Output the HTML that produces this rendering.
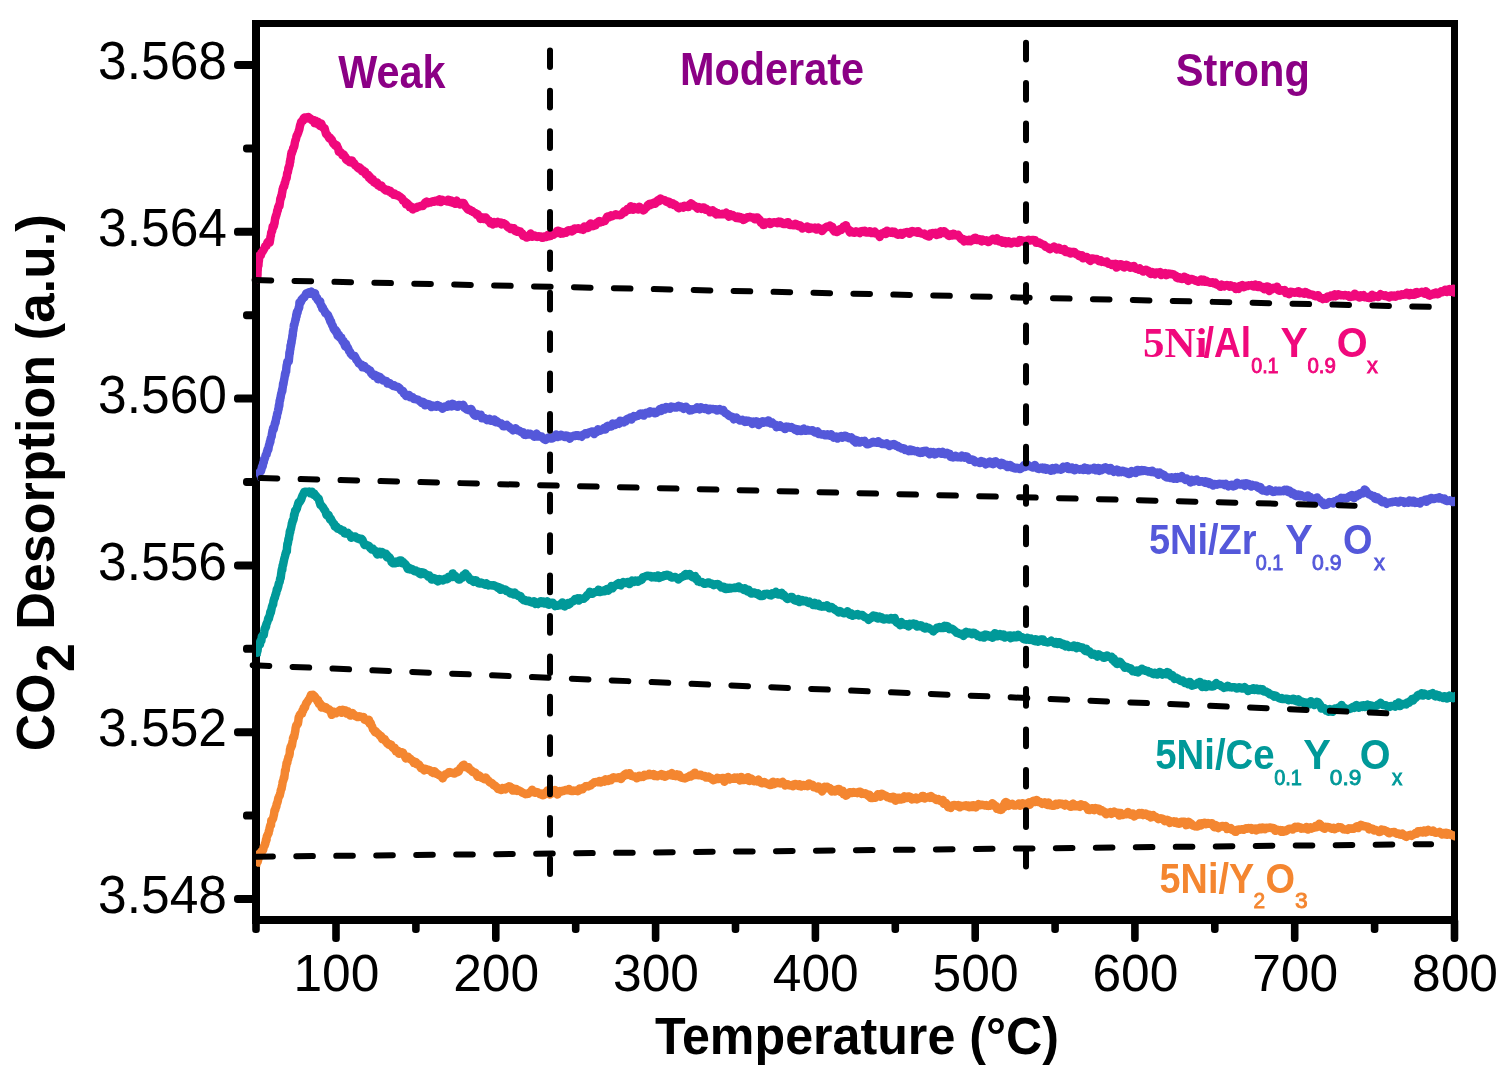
<!DOCTYPE html>
<html><head><meta charset="utf-8"><title>CO2-TPD</title>
<style>html,body{margin:0;padding:0;background:#fff}svg{display:block}</style></head>
<body>
<svg width="1510" height="1084" viewBox="0 0 1510 1084">
<rect width="1510" height="1084" fill="#fff"/>
<rect x="252" y="20" width="8" height="904" fill="#000"/>
<rect x="1451" y="20" width="7" height="904" fill="#000"/>
<rect x="252" y="20" width="1206" height="7" fill="#000"/>
<rect x="252" y="916" width="1206" height="8" fill="#000"/>
<rect x="252.2" y="918" width="7.6" height="15.0" rx="3.3" fill="#000"/>
<rect x="332.2" y="918" width="7.6" height="24.0" rx="3.3" fill="#000"/>
<rect x="412.1" y="918" width="7.6" height="15.0" rx="3.3" fill="#000"/>
<rect x="492.0" y="918" width="7.6" height="24.0" rx="3.3" fill="#000"/>
<rect x="571.9" y="918" width="7.6" height="15.0" rx="3.3" fill="#000"/>
<rect x="651.8" y="918" width="7.6" height="24.0" rx="3.3" fill="#000"/>
<rect x="731.7" y="918" width="7.6" height="15.0" rx="3.3" fill="#000"/>
<rect x="811.6" y="918" width="7.6" height="24.0" rx="3.3" fill="#000"/>
<rect x="891.5" y="918" width="7.6" height="15.0" rx="3.3" fill="#000"/>
<rect x="971.4" y="918" width="7.6" height="24.0" rx="3.3" fill="#000"/>
<rect x="1051.3" y="918" width="7.6" height="15.0" rx="3.3" fill="#000"/>
<rect x="1131.1" y="918" width="7.6" height="24.0" rx="3.3" fill="#000"/>
<rect x="1211.0" y="918" width="7.6" height="15.0" rx="3.3" fill="#000"/>
<rect x="1290.9" y="918" width="7.6" height="24.0" rx="3.3" fill="#000"/>
<rect x="1370.8" y="918" width="7.6" height="15.0" rx="3.3" fill="#000"/>
<rect x="1450.7" y="918" width="7.6" height="24.0" rx="3.3" fill="#000"/>
<rect x="234.0" y="61.0" width="24" height="8" rx="3.4" fill="#000"/>
<rect x="243.0" y="144.4" width="15" height="8" rx="3.4" fill="#000"/>
<rect x="234.0" y="227.8" width="24" height="8" rx="3.4" fill="#000"/>
<rect x="243.0" y="311.2" width="15" height="8" rx="3.4" fill="#000"/>
<rect x="234.0" y="394.6" width="24" height="8" rx="3.4" fill="#000"/>
<rect x="243.0" y="478.0" width="15" height="8" rx="3.4" fill="#000"/>
<rect x="234.0" y="561.4" width="24" height="8" rx="3.4" fill="#000"/>
<rect x="243.0" y="644.8" width="15" height="8" rx="3.4" fill="#000"/>
<rect x="234.0" y="728.2" width="24" height="8" rx="3.4" fill="#000"/>
<rect x="243.0" y="811.6" width="15" height="8" rx="3.4" fill="#000"/>
<rect x="234.0" y="895.0" width="24" height="8" rx="3.4" fill="#000"/>
<clipPath id="plotclip"><rect x="256" y="20" width="1199" height="900"/></clipPath>
<g clip-path="url(#plotclip)">
<path d="M256.0 866.0 L256.4 864.2 L256.8 862.5 L257.2 862.5 L257.7 861.6 L258.1 860.2 L258.5 858.2 L259.1 857.2 L259.7 853.4 L260.3 853.0 L260.9 852.7 L261.4 851.5 L262.0 851.4 L262.6 850.8 L263.2 849.7 L263.8 846.7 L264.4 845.9 L264.7 845.5 L265.1 843.1 L265.4 843.4 L265.8 841.1 L266.1 839.2 L266.5 840.2 L266.8 836.7 L267.2 835.5 L267.5 835.5 L267.9 834.2 L268.2 833.9 L268.6 833.2 L268.9 830.7 L269.3 830.3 L269.6 828.2 L269.9 826.9 L270.3 825.5 L270.6 825.0 L271.0 825.1 L271.3 820.4 L271.6 821.0 L272.0 820.5 L272.3 819.7 L272.7 818.8 L273.0 818.7 L273.3 817.4 L273.7 815.6 L274.0 814.5 L274.4 811.2 L274.7 809.8 L275.0 810.7 L275.4 809.3 L275.7 807.4 L276.1 807.1 L276.4 806.4 L276.7 803.6 L277.1 803.5 L277.4 802.4 L277.8 801.1 L278.1 799.2 L278.4 797.9 L278.8 797.1 L279.1 796.3 L279.5 795.8 L279.8 795.3 L280.1 793.6 L280.4 792.6 L280.7 790.9 L281.0 789.7 L281.3 789.2 L281.6 788.8 L281.9 786.3 L282.1 785.8 L282.4 783.9 L282.7 781.5 L283.0 781.4 L283.3 780.4 L283.6 779.2 L283.9 777.3 L284.2 778.1 L284.5 775.7 L284.7 774.1 L285.0 770.9 L285.2 770.1 L285.5 770.5 L285.7 770.2 L286.0 766.5 L286.3 766.0 L286.5 763.2 L286.8 763.4 L287.0 762.3 L287.3 762.9 L287.5 760.6 L287.8 759.7 L288.1 759.3 L288.4 757.2 L288.7 756.7 L289.1 756.0 L289.4 755.0 L289.7 753.5 L290.0 749.4 L290.3 749.1 L290.6 746.8 L291.0 748.1 L291.3 746.4 L291.6 744.7 L291.9 745.8 L292.2 743.7 L292.5 741.7 L292.8 740.3 L293.1 737.8 L293.4 737.7 L293.7 736.3 L294.1 737.4 L294.4 735.4 L294.7 734.1 L295.0 732.1 L295.3 731.2 L295.6 728.2 L295.9 726.9 L296.3 725.3 L296.7 725.4 L297.1 724.8 L297.5 723.5 L297.9 723.6 L298.3 721.3 L298.7 717.5 L299.1 717.2 L299.7 715.0 L300.2 714.4 L300.8 713.5 L301.4 713.7 L302.0 713.6 L302.5 710.5 L303.1 710.8 L303.8 707.5 L304.4 708.2 L305.1 707.1 L305.7 704.6 L306.4 702.9 L307.0 702.6 L307.8 701.0 L308.6 699.8 L309.4 699.0 L310.2 697.1 L311.0 694.9 L311.8 696.2 L313.1 695.0 L314.5 696.2 L315.8 698.0 L316.6 699.2 L317.4 701.2 L318.1 700.1 L318.9 703.9 L319.7 703.1 L320.5 704.0 L321.6 707.6 L322.7 706.0 L323.9 707.0 L325.0 708.3 L326.1 707.3 L327.0 709.0 L328.0 709.0 L328.9 709.1 L329.8 711.1 L330.8 710.7 L331.7 714.8 L333.1 711.4 L334.4 713.2 L335.8 713.3 L337.2 712.2 L338.6 711.1 L340.0 710.1 L341.4 712.7 L342.8 709.8 L344.1 711.1 L345.4 710.4 L346.6 713.6 L347.9 711.2 L349.2 714.4 L350.2 715.6 L351.3 714.7 L352.4 713.1 L353.4 714.8 L354.4 714.7 L355.5 716.2 L356.7 716.7 L357.9 717.1 L359.1 716.2 L360.3 716.6 L361.5 717.0 L362.7 717.3 L363.6 717.0 L364.5 719.8 L365.4 719.9 L366.4 720.3 L367.3 720.6 L368.2 721.6 L369.0 719.8 L369.8 723.8 L370.6 722.8 L371.4 725.2 L372.2 726.7 L373.0 729.2 L373.8 730.0 L374.9 732.0 L375.9 731.5 L377.0 733.1 L378.1 733.7 L379.1 734.6 L380.2 736.3 L381.1 735.9 L382.0 738.9 L382.9 738.2 L383.9 739.1 L384.8 739.4 L385.7 741.4 L386.5 741.9 L387.3 743.5 L388.1 743.9 L388.9 744.9 L389.7 744.1 L390.5 744.5 L391.3 744.9 L392.4 747.3 L393.5 748.2 L394.7 747.8 L395.8 751.2 L396.9 751.3 L397.9 750.8 L398.9 753.7 L399.9 752.3 L400.9 752.2 L401.9 752.3 L403.0 752.7 L404.0 754.9 L405.0 756.5 L406.0 758.5 L407.0 756.9 L408.0 756.7 L409.0 758.4 L410.0 758.4 L410.9 759.6 L411.9 760.3 L412.9 760.8 L413.9 763.0 L414.9 762.9 L415.9 762.0 L416.9 764.3 L417.9 764.5 L418.9 764.5 L419.9 766.2 L420.9 768.1 L421.9 767.8 L422.9 769.1 L424.2 770.2 L425.5 768.8 L426.9 769.5 L428.2 769.7 L429.5 770.2 L430.8 770.8 L432.0 772.3 L433.2 772.9 L434.4 771.2 L435.6 772.3 L436.8 774.0 L437.8 774.1 L438.8 775.1 L439.7 775.3 L440.7 775.6 L441.7 777.0 L442.7 778.4 L443.7 775.6 L444.7 775.4 L445.7 774.1 L446.7 773.9 L447.7 773.4 L448.7 772.3 L449.9 772.1 L451.1 772.6 L452.3 773.0 L453.5 773.3 L454.7 773.5 L455.7 772.7 L456.7 771.4 L457.7 772.1 L458.6 771.6 L459.6 769.6 L460.6 767.7 L461.6 767.4 L462.6 765.5 L463.8 764.7 L465.0 766.9 L466.2 767.4 L467.4 767.1 L468.6 767.3 L469.6 769.3 L470.6 770.0 L471.6 770.4 L472.6 772.0 L473.5 772.1 L474.5 772.2 L475.5 772.7 L476.5 774.5 L477.6 776.7 L478.8 775.2 L479.9 776.1 L481.1 777.5 L482.2 778.1 L483.4 778.4 L484.5 779.2 L485.5 777.5 L486.5 778.4 L487.5 780.0 L488.4 780.7 L489.4 782.0 L490.4 782.8 L491.4 782.8 L492.4 783.6 L493.5 785.2 L494.6 785.3 L495.7 786.4 L496.9 787.2 L498.0 788.9 L499.1 788.9 L500.2 789.6 L501.3 790.0 L502.6 788.0 L503.9 789.2 L505.2 789.4 L506.4 787.6 L507.7 788.0 L509.0 786.4 L510.3 786.7 L511.5 788.6 L512.7 790.6 L513.8 788.6 L515.0 790.4 L516.2 789.0 L517.3 790.8 L518.5 790.2 L519.6 791.0 L520.8 791.3 L521.9 792.5 L523.1 792.9 L524.2 793.4 L525.5 794.2 L526.8 793.9 L528.2 793.8 L529.5 792.4 L530.8 792.2 L532.1 789.8 L533.4 792.1 L534.8 792.8 L536.1 792.1 L537.4 792.2 L538.8 793.3 L540.1 794.2 L541.3 793.7 L542.5 795.3 L543.8 795.1 L545.0 792.8 L546.2 793.6 L547.5 790.4 L548.7 793.0 L549.9 794.5 L551.1 792.7 L552.4 793.1 L553.6 792.5 L554.9 790.1 L556.1 792.5 L557.4 794.5 L558.6 792.2 L559.9 791.1 L561.2 791.4 L562.5 790.7 L563.8 790.9 L565.2 790.1 L566.5 790.1 L567.8 790.2 L569.0 789.0 L570.3 790.8 L571.5 790.9 L572.8 791.0 L574.0 790.6 L575.3 790.8 L576.5 790.3 L577.8 791.2 L578.8 790.6 L579.8 788.4 L580.8 789.5 L581.8 788.8 L582.7 789.2 L583.7 787.5 L584.7 787.2 L585.7 786.3 L586.9 786.1 L588.2 786.4 L589.4 785.8 L590.7 785.4 L591.9 784.1 L593.1 783.4 L594.4 782.3 L595.6 782.2 L596.9 781.9 L598.1 782.3 L599.4 781.1 L600.6 782.5 L601.9 781.1 L603.1 781.3 L604.4 781.6 L605.6 779.2 L606.9 780.5 L608.2 780.9 L609.6 779.0 L610.9 780.3 L612.2 777.9 L613.5 777.2 L614.9 778.1 L616.2 778.1 L617.5 777.7 L618.7 777.2 L619.9 777.9 L621.1 779.0 L622.3 776.3 L623.6 776.2 L624.8 774.3 L626.0 773.6 L627.2 774.7 L628.4 773.5 L629.6 773.2 L630.8 775.5 L632.0 776.0 L633.2 776.3 L634.5 776.6 L635.7 776.5 L636.9 778.2 L638.1 777.0 L639.3 775.8 L640.5 777.0 L641.8 776.7 L643.0 776.9 L644.3 775.0 L645.5 775.7 L646.8 774.7 L648.0 775.2 L649.3 773.8 L650.6 775.1 L651.9 775.0 L653.3 774.2 L654.6 776.1 L655.9 775.1 L657.2 776.2 L658.6 775.4 L659.9 775.1 L661.2 774.2 L662.5 776.0 L663.8 775.0 L665.2 776.7 L666.5 775.9 L667.8 775.1 L669.1 774.3 L670.5 775.3 L671.8 773.1 L673.1 775.8 L674.3 775.6 L675.5 776.1 L676.7 774.3 L677.9 776.2 L679.0 774.7 L680.2 777.2 L681.4 777.7 L682.6 778.0 L683.8 778.1 L685.0 778.4 L686.2 777.9 L687.4 777.2 L688.7 776.9 L689.9 775.6 L691.1 776.5 L692.3 774.7 L693.6 775.2 L694.8 772.7 L696.0 774.9 L697.3 774.8 L698.5 775.2 L699.8 774.7 L701.1 775.0 L702.4 776.0 L703.6 776.0 L704.9 776.1 L706.1 777.6 L707.4 777.4 L708.6 776.6 L709.8 778.0 L711.1 778.1 L712.3 779.5 L713.6 780.2 L714.8 779.7 L716.0 779.1 L717.2 777.9 L718.4 778.9 L719.6 778.3 L720.8 778.6 L722.0 778.0 L723.2 778.0 L724.4 781.7 L725.6 777.9 L726.8 778.0 L728.1 777.0 L729.4 779.4 L730.8 778.5 L732.1 778.8 L733.4 778.7 L734.7 777.6 L736.1 778.6 L737.4 777.6 L738.7 778.4 L740.0 780.5 L741.3 776.9 L742.7 780.0 L744.0 779.9 L745.3 778.2 L746.6 778.5 L748.0 777.2 L749.3 781.0 L750.6 778.3 L751.7 778.8 L752.8 780.5 L753.9 781.2 L755.0 780.6 L756.1 780.8 L757.2 781.3 L758.3 779.6 L759.4 780.8 L760.5 782.4 L761.8 783.3 L763.2 782.5 L764.5 782.0 L765.8 783.5 L767.2 783.4 L768.5 784.4 L769.6 784.9 L770.8 785.0 L771.9 782.9 L773.0 781.7 L774.1 784.2 L775.3 782.7 L776.4 783.1 L777.6 782.2 L778.9 782.9 L780.1 783.5 L781.4 782.6 L782.6 781.9 L783.9 783.2 L785.1 785.3 L786.4 784.7 L787.7 784.2 L789.0 785.3 L790.4 785.4 L791.7 785.1 L793.0 786.2 L794.3 784.1 L795.7 783.9 L797.0 784.8 L798.3 786.0 L799.6 784.3 L800.9 786.5 L802.3 785.1 L803.6 784.9 L804.9 785.9 L806.2 785.7 L807.6 786.1 L808.9 783.4 L810.2 784.4 L811.4 784.6 L812.6 784.9 L813.8 787.3 L815.0 787.0 L816.2 787.5 L817.3 788.4 L818.5 786.4 L819.7 787.9 L820.9 788.9 L822.1 791.4 L823.4 788.3 L824.6 786.8 L825.9 788.2 L827.1 786.8 L828.4 788.5 L829.6 788.0 L830.9 790.2 L832.1 791.5 L833.4 790.3 L834.7 791.5 L836.0 789.7 L837.1 789.8 L838.2 788.9 L839.3 788.9 L840.4 791.8 L841.5 792.1 L842.6 790.7 L843.7 794.3 L844.8 794.1 L845.9 795.6 L847.2 794.8 L848.4 793.6 L849.7 792.3 L851.0 792.3 L852.2 793.0 L853.5 792.0 L854.7 792.8 L856.0 792.4 L857.3 793.1 L858.5 791.9 L859.8 791.7 L860.9 792.0 L862.0 793.9 L863.0 793.5 L864.1 794.0 L865.2 793.3 L866.3 794.1 L867.4 794.8 L868.5 796.2 L869.5 794.7 L870.6 797.9 L871.7 797.2 L873.0 797.9 L874.2 797.3 L875.5 797.6 L876.7 796.1 L878.0 794.3 L879.2 796.2 L880.5 796.6 L881.7 793.7 L882.9 794.3 L884.0 795.2 L885.2 795.4 L886.3 796.0 L887.5 797.3 L888.7 797.1 L889.8 798.1 L891.0 798.4 L892.1 796.9 L893.3 796.8 L894.4 798.8 L895.6 800.7 L896.9 797.7 L898.1 799.6 L899.4 797.8 L900.7 799.5 L901.9 798.5 L903.2 799.1 L904.4 796.3 L905.7 798.0 L907.0 797.9 L908.2 796.5 L909.5 796.6 L910.8 797.1 L912.0 799.5 L913.3 798.8 L914.6 798.9 L915.8 797.6 L917.1 799.3 L918.3 798.7 L919.6 798.1 L920.9 797.8 L922.1 796.1 L923.4 796.1 L924.7 798.4 L925.9 797.8 L927.2 797.6 L928.5 796.8 L929.7 797.7 L931.0 796.2 L932.2 797.1 L933.5 798.2 L934.8 798.2 L936.0 799.8 L937.3 800.1 L938.4 799.2 L939.5 800.2 L940.5 801.1 L941.6 800.6 L942.7 799.9 L943.8 803.8 L944.9 802.9 L946.0 802.9 L947.0 804.9 L948.1 807.1 L949.2 806.8 L950.5 808.0 L951.8 805.8 L953.2 805.1 L954.5 804.9 L955.8 805.4 L957.1 806.1 L958.5 805.1 L959.8 807.3 L961.1 805.7 L962.3 806.1 L963.5 806.0 L964.7 805.6 L965.9 805.3 L967.1 806.4 L968.3 805.6 L969.5 807.3 L970.7 805.8 L971.9 807.1 L973.1 805.2 L974.4 805.4 L975.7 807.4 L977.1 805.8 L978.4 804.3 L979.7 805.2 L981.0 804.7 L982.4 804.7 L983.7 805.1 L985.0 805.6 L986.2 805.0 L987.5 805.8 L988.7 805.9 L990.0 805.7 L991.2 804.5 L992.4 803.3 L993.7 804.3 L994.9 806.2 L995.9 806.1 L996.9 808.8 L997.9 807.6 L998.9 809.5 L999.9 808.6 L1000.9 809.9 L1001.7 809.7 L1002.5 807.3 L1003.2 805.9 L1004.0 807.3 L1004.8 802.9 L1006.0 802.0 L1007.3 802.8 L1008.5 805.9 L1009.8 804.0 L1011.0 804.3 L1012.3 803.9 L1013.5 805.4 L1014.8 805.5 L1016.1 805.4 L1017.4 804.9 L1018.8 803.6 L1020.1 805.7 L1021.4 805.1 L1022.7 803.3 L1024.1 804.9 L1025.4 804.8 L1026.7 803.6 L1027.8 805.2 L1028.9 802.3 L1030.0 804.7 L1031.2 801.9 L1032.3 801.9 L1033.4 800.7 L1034.5 802.1 L1035.6 800.9 L1036.7 799.9 L1037.8 802.1 L1039.0 802.0 L1040.1 802.1 L1041.2 803.0 L1042.3 803.8 L1043.5 802.8 L1044.6 802.3 L1045.9 804.2 L1047.1 804.8 L1048.4 802.5 L1049.7 805.1 L1050.9 804.7 L1052.2 805.8 L1053.4 805.7 L1054.7 805.5 L1056.0 803.8 L1057.2 804.9 L1058.5 803.7 L1059.7 803.4 L1060.9 804.0 L1062.1 803.7 L1063.3 804.5 L1064.5 805.4 L1065.6 804.0 L1066.8 804.9 L1068.0 805.1 L1069.2 805.8 L1070.4 806.8 L1071.7 806.5 L1073.0 803.6 L1074.4 806.3 L1075.7 806.2 L1077.0 805.3 L1078.3 806.2 L1079.7 806.8 L1081.0 804.2 L1082.3 805.7 L1083.5 805.9 L1084.7 805.4 L1085.9 806.3 L1087.1 807.5 L1088.2 809.9 L1089.4 810.1 L1090.6 809.2 L1091.8 808.3 L1093.0 808.3 L1094.2 810.2 L1095.4 808.1 L1096.6 809.4 L1097.8 808.5 L1099.0 808.9 L1100.2 811.2 L1101.4 809.9 L1102.6 811.6 L1103.8 811.6 L1105.0 813.0 L1106.2 814.2 L1107.5 812.7 L1108.8 812.9 L1110.2 812.1 L1111.5 813.8 L1112.8 813.1 L1114.1 811.6 L1115.5 812.7 L1116.8 812.8 L1118.1 812.7 L1119.3 815.5 L1120.6 812.9 L1121.8 814.8 L1123.0 814.9 L1124.2 814.2 L1125.5 814.3 L1126.7 814.2 L1127.9 812.0 L1129.1 813.3 L1130.4 814.8 L1131.6 814.9 L1132.9 813.6 L1134.2 816.4 L1135.5 814.6 L1136.8 814.9 L1138.0 814.5 L1139.3 813.1 L1140.6 814.6 L1141.9 812.9 L1143.2 815.0 L1144.5 814.4 L1145.7 813.5 L1147.0 814.4 L1148.3 816.1 L1149.5 814.7 L1150.8 817.5 L1152.0 816.4 L1153.3 815.3 L1154.6 816.5 L1155.8 816.8 L1157.1 817.8 L1158.4 819.2 L1159.6 818.7 L1160.9 818.3 L1162.2 818.6 L1163.4 819.4 L1164.7 821.0 L1165.9 820.1 L1167.2 819.8 L1168.5 820.4 L1169.7 822.9 L1171.0 822.0 L1172.3 821.8 L1173.5 821.3 L1174.8 822.7 L1176.1 821.8 L1177.3 823.4 L1178.6 823.7 L1179.8 823.5 L1181.1 821.7 L1182.4 821.7 L1183.6 822.0 L1184.9 821.8 L1186.2 825.1 L1187.4 824.9 L1188.7 821.8 L1190.0 822.8 L1191.2 823.7 L1192.5 825.3 L1193.7 825.9 L1195.0 826.4 L1196.3 825.8 L1197.5 826.5 L1198.8 825.6 L1200.0 823.4 L1201.1 825.4 L1202.3 823.2 L1203.4 823.9 L1204.6 822.7 L1205.8 824.2 L1206.9 823.9 L1208.1 823.0 L1209.4 823.7 L1210.6 823.5 L1211.9 823.3 L1213.2 825.8 L1214.4 827.2 L1215.7 825.1 L1216.9 827.0 L1218.2 828.2 L1219.5 826.4 L1220.7 826.6 L1222.0 825.9 L1223.3 826.2 L1224.5 827.0 L1225.8 825.9 L1227.1 829.0 L1228.3 828.6 L1229.6 828.7 L1230.8 828.1 L1232.1 829.8 L1233.4 830.1 L1234.6 831.5 L1235.9 831.8 L1237.2 829.9 L1238.4 829.5 L1239.7 829.7 L1241.0 829.5 L1242.2 829.3 L1243.5 829.8 L1244.7 829.1 L1246.0 828.2 L1247.3 828.7 L1248.5 828.0 L1249.8 828.5 L1251.1 828.0 L1252.3 829.7 L1253.6 828.9 L1254.9 828.6 L1256.1 830.4 L1257.4 828.6 L1258.6 829.4 L1259.9 828.1 L1261.2 829.3 L1262.4 827.5 L1263.7 828.0 L1265.0 829.1 L1266.4 827.8 L1267.7 828.1 L1269.0 827.7 L1270.3 827.5 L1271.7 828.2 L1273.0 828.0 L1274.2 828.5 L1275.3 830.8 L1276.5 829.7 L1277.7 829.8 L1278.8 830.3 L1280.0 830.1 L1281.1 831.8 L1282.3 830.3 L1283.5 831.8 L1284.6 830.5 L1285.8 831.1 L1286.9 830.4 L1288.1 829.2 L1289.2 828.8 L1290.4 828.8 L1291.6 828.9 L1292.7 829.5 L1293.9 828.1 L1295.0 826.9 L1296.2 827.9 L1297.5 826.7 L1298.8 827.0 L1300.1 827.4 L1301.4 828.7 L1302.6 828.0 L1303.9 828.6 L1305.2 828.5 L1306.5 826.9 L1307.8 829.6 L1309.1 828.1 L1310.4 827.4 L1311.7 828.5 L1313.0 827.4 L1314.2 827.7 L1315.5 826.0 L1316.8 827.2 L1318.1 825.6 L1319.4 823.8 L1320.7 824.9 L1322.0 827.4 L1323.2 827.9 L1324.5 828.8 L1325.8 826.9 L1327.1 827.2 L1328.3 827.1 L1329.6 827.4 L1330.9 828.3 L1332.2 828.8 L1333.5 827.9 L1334.8 829.1 L1336.1 828.3 L1337.3 828.1 L1338.6 827.1 L1339.9 827.3 L1341.2 827.5 L1342.5 828.5 L1343.8 829.4 L1345.1 829.6 L1346.4 829.2 L1347.7 829.8 L1348.9 828.2 L1350.2 828.6 L1351.5 828.7 L1352.8 828.2 L1354.1 828.6 L1355.4 827.3 L1356.8 826.4 L1358.1 828.1 L1359.4 826.2 L1360.7 824.8 L1362.1 825.8 L1363.4 826.2 L1364.6 826.0 L1365.7 826.6 L1366.9 826.9 L1368.1 826.7 L1369.2 829.4 L1370.4 828.8 L1371.5 828.6 L1372.7 828.7 L1374.0 830.4 L1375.3 829.7 L1376.6 830.4 L1377.9 830.9 L1379.1 832.0 L1380.4 831.8 L1381.7 829.4 L1383.0 830.3 L1384.3 830.1 L1385.6 831.0 L1386.9 831.2 L1388.1 832.7 L1389.4 833.2 L1390.7 832.5 L1392.0 832.3 L1393.2 832.1 L1394.5 832.0 L1395.8 833.2 L1397.1 833.8 L1398.5 833.5 L1399.8 834.6 L1401.1 834.7 L1402.4 833.7 L1403.8 834.9 L1405.1 836.2 L1406.4 836.8 L1407.7 835.4 L1409.0 835.5 L1410.3 834.8 L1411.5 835.8 L1412.8 834.9 L1414.1 834.3 L1415.4 833.1 L1416.7 833.6 L1418.0 831.3 L1419.2 831.5 L1420.5 831.1 L1421.8 832.4 L1423.0 832.6 L1424.3 830.4 L1425.5 832.4 L1426.8 832.0 L1428.1 829.8 L1429.3 831.3 L1430.6 831.2 L1431.9 831.8 L1433.2 830.6 L1434.5 832.2 L1435.8 832.7 L1437.0 832.5 L1438.3 832.6 L1439.6 831.8 L1440.9 833.5 L1442.2 834.4 L1443.5 833.2 L1444.8 834.2 L1446.1 832.8 L1447.4 834.8 L1448.7 833.4 L1450.0 834.1 L1451.2 835.1 L1452.3 835.3 L1453.5 835.5 L1454.7 836.1 L1455.8 836.3 L1457.0 837.5" fill="none" stroke="#F48630" stroke-width="8.5" stroke-linejoin="round" stroke-linecap="butt"/>
<path d="M256.5 656.0 L256.8 652.5 L257.0 652.7 L257.2 651.2 L257.5 651.0 L257.8 648.3 L258.0 646.0 L258.2 646.2 L258.5 644.7 L259.0 643.6 L259.4 644.1 L259.9 644.5 L260.4 641.3 L260.9 640.2 L261.4 640.7 L261.8 636.6 L262.3 636.2 L262.8 635.3 L263.2 634.6 L263.7 635.0 L264.2 632.1 L264.6 629.2 L264.9 628.1 L265.3 628.3 L265.6 626.3 L266.0 627.0 L266.4 623.9 L266.7 623.6 L267.1 622.5 L267.4 621.7 L267.8 620.3 L268.2 618.7 L268.5 618.0 L268.9 618.6 L269.2 616.6 L269.6 615.8 L270.0 614.2 L270.3 612.0 L270.7 612.9 L271.0 611.4 L271.4 609.5 L271.7 608.0 L272.1 606.2 L272.4 605.9 L272.8 604.3 L273.1 604.5 L273.5 601.3 L273.8 600.3 L274.2 598.6 L274.5 598.3 L274.9 597.8 L275.2 595.6 L275.6 594.9 L275.9 593.2 L276.2 593.5 L276.5 591.4 L276.9 589.1 L277.2 588.6 L277.5 589.3 L277.8 587.6 L278.2 586.7 L278.5 585.1 L278.8 583.6 L279.1 582.6 L279.5 582.5 L279.8 581.0 L280.1 579.1 L280.3 578.1 L280.6 578.2 L280.8 577.1 L281.1 574.2 L281.3 573.1 L281.6 570.7 L281.8 569.7 L282.1 568.4 L282.3 569.6 L282.6 565.7 L282.8 565.7 L283.1 564.8 L283.3 563.5 L283.6 562.2 L284.0 560.1 L284.3 558.8 L284.6 557.7 L284.9 556.7 L285.3 555.2 L285.6 553.6 L285.8 553.6 L286.1 551.9 L286.3 551.9 L286.5 551.9 L286.8 551.4 L287.0 547.9 L287.2 545.9 L287.4 543.8 L287.7 544.3 L287.9 543.0 L288.1 542.2 L288.4 539.6 L288.6 538.5 L288.9 539.1 L289.1 537.0 L289.3 535.5 L289.6 534.2 L289.8 531.5 L290.1 532.6 L290.3 531.1 L290.6 529.3 L290.9 528.9 L291.2 527.2 L291.5 526.0 L291.9 523.1 L292.2 523.6 L292.5 521.1 L292.8 520.4 L293.1 520.6 L293.5 519.3 L293.8 517.9 L294.1 514.4 L294.5 515.3 L294.9 512.3 L295.2 510.5 L295.5 511.6 L295.9 510.2 L296.4 509.2 L296.8 509.1 L297.3 506.4 L297.7 505.5 L298.2 503.7 L298.6 502.3 L299.1 502.0 L299.8 502.0 L300.4 500.4 L301.1 499.9 L301.8 497.5 L302.4 495.8 L303.1 494.7 L304.3 491.9 L305.5 491.7 L306.6 491.9 L307.8 491.9 L309.2 491.5 L310.6 493.4 L312.0 491.8 L313.4 494.7 L314.2 493.5 L315.0 495.5 L315.8 495.5 L316.6 497.0 L317.4 497.7 L317.9 498.2 L318.4 498.2 L318.9 499.4 L319.5 501.9 L320.0 503.2 L320.5 505.2 L321.2 505.3 L321.8 506.0 L322.5 506.8 L323.2 507.8 L323.8 508.9 L324.5 510.0 L325.2 510.7 L325.8 512.4 L326.5 515.0 L327.2 514.3 L327.8 516.0 L328.5 514.8 L329.3 517.3 L330.1 519.3 L330.9 518.9 L331.7 520.7 L332.5 522.0 L333.3 523.4 L334.1 523.9 L334.8 526.4 L335.6 526.9 L336.4 526.4 L337.6 528.7 L338.8 528.8 L340.0 528.9 L341.2 530.7 L342.3 530.8 L343.4 530.5 L344.6 533.4 L345.7 533.6 L346.8 533.6 L347.9 533.0 L349.0 534.6 L350.1 534.9 L351.2 537.7 L352.3 537.3 L353.7 536.6 L355.1 536.4 L356.5 538.0 L357.9 538.7 L358.8 538.4 L359.8 539.4 L360.7 539.5 L361.6 538.9 L362.6 540.2 L363.5 542.6 L364.6 545.0 L365.7 544.5 L366.8 545.2 L367.9 545.4 L369.0 546.0 L370.0 547.7 L370.9 548.5 L371.9 549.6 L372.8 548.6 L373.8 550.0 L374.9 550.8 L376.0 552.1 L377.2 554.4 L378.3 554.0 L379.4 551.7 L380.8 554.2 L382.1 552.1 L383.5 554.0 L384.9 554.1 L385.9 553.7 L387.0 557.3 L388.1 556.1 L389.1 558.4 L389.9 558.0 L390.8 559.7 L391.6 562.0 L392.5 562.8 L393.3 563.3 L394.2 563.0 L395.0 563.3 L396.2 561.8 L397.4 562.7 L398.6 562.5 L399.8 560.5 L401.0 560.4 L402.0 563.3 L403.0 561.9 L404.0 563.1 L404.9 563.7 L405.9 564.9 L406.9 567.0 L407.9 569.0 L408.9 567.7 L410.0 569.3 L411.2 568.7 L412.3 569.3 L413.5 570.5 L414.6 571.2 L415.8 570.6 L416.9 571.7 L418.1 571.5 L419.4 573.5 L420.6 574.3 L421.9 572.2 L423.1 573.7 L424.3 573.1 L425.6 574.4 L426.8 574.6 L428.1 576.3 L429.3 575.5 L430.6 578.0 L431.8 579.6 L433.1 577.9 L434.3 578.4 L435.6 578.8 L436.8 580.5 L438.0 581.4 L439.3 579.0 L440.5 579.7 L441.8 579.4 L443.0 580.4 L444.2 579.7 L445.5 578.6 L446.7 579.3 L447.7 578.9 L448.7 576.7 L449.7 577.3 L450.7 577.0 L451.7 577.1 L452.7 573.4 L453.9 575.9 L455.1 575.7 L456.2 577.3 L457.4 578.0 L458.6 579.4 L459.8 579.5 L460.9 577.8 L462.1 577.8 L463.3 575.3 L464.4 575.4 L465.6 573.5 L466.8 576.0 L467.9 576.1 L469.1 578.4 L470.2 579.9 L471.4 579.5 L472.5 580.9 L473.8 581.9 L475.0 580.2 L476.2 580.4 L477.5 582.3 L478.8 583.4 L480.0 583.6 L481.2 582.5 L482.5 583.1 L483.7 583.8 L485.0 584.6 L486.2 583.3 L487.4 584.7 L488.7 585.4 L489.9 585.1 L491.2 585.3 L492.4 585.4 L493.5 585.2 L494.7 585.7 L495.8 586.4 L496.9 586.4 L498.0 587.9 L499.2 587.4 L500.3 589.8 L501.6 588.5 L502.8 589.6 L504.1 589.5 L505.3 589.4 L506.6 591.1 L507.8 591.2 L509.1 592.2 L510.3 593.3 L511.4 592.6 L512.6 593.4 L513.7 594.5 L514.8 592.6 L515.9 594.8 L517.1 594.5 L518.2 596.0 L519.3 595.7 L520.5 596.2 L521.6 598.5 L522.8 599.3 L523.9 600.3 L525.1 600.1 L526.2 601.0 L527.5 600.7 L528.8 600.7 L530.2 601.9 L531.5 602.4 L532.8 602.4 L534.1 601.2 L535.4 603.9 L536.8 602.9 L538.1 603.9 L539.4 602.3 L540.8 601.2 L542.1 603.0 L543.4 601.6 L544.7 603.6 L546.0 602.1 L547.3 601.3 L548.6 604.7 L549.9 604.2 L551.2 603.1 L552.6 602.7 L553.9 604.1 L555.2 606.0 L556.6 605.3 L557.9 605.7 L559.0 605.0 L560.2 604.2 L561.3 605.3 L562.4 602.5 L563.5 604.6 L564.7 606.4 L565.8 605.2 L566.8 604.1 L567.8 603.3 L568.8 604.5 L569.8 603.8 L570.8 602.5 L571.8 601.8 L572.8 601.5 L573.8 600.8 L575.0 599.0 L576.3 599.0 L577.5 598.3 L578.8 600.6 L580.0 598.2 L581.2 599.0 L582.5 598.4 L583.7 598.8 L584.9 597.6 L586.2 596.6 L587.4 594.7 L588.7 594.3 L589.9 591.8 L591.1 593.4 L592.4 593.8 L593.6 592.7 L594.9 592.1 L596.1 591.8 L597.4 591.8 L598.6 589.7 L599.9 592.1 L601.1 591.2 L602.4 591.4 L603.6 590.5 L604.7 591.1 L605.9 590.0 L607.0 589.0 L608.1 590.7 L609.2 589.7 L610.4 588.8 L611.5 586.0 L612.6 588.3 L613.8 586.1 L614.9 585.6 L616.1 585.0 L617.2 584.1 L618.4 583.3 L619.5 584.9 L620.7 585.4 L622.0 583.0 L623.2 582.1 L624.5 583.0 L625.7 582.8 L626.9 582.2 L628.2 582.0 L629.4 584.1 L630.6 582.0 L631.9 580.8 L633.1 581.9 L634.3 581.9 L635.6 580.7 L636.8 581.6 L638.1 581.7 L639.3 580.3 L640.5 580.3 L641.8 579.7 L643.0 577.1 L644.3 576.9 L645.5 576.4 L646.8 575.8 L648.0 575.8 L649.3 575.9 L650.5 575.9 L651.8 577.4 L653.0 577.2 L654.2 576.4 L655.5 577.5 L656.7 577.0 L658.0 575.6 L659.2 578.0 L660.5 576.3 L661.8 577.0 L663.1 576.4 L664.3 575.3 L665.6 575.7 L666.9 574.7 L668.2 575.3 L669.5 575.5 L670.7 576.9 L672.0 577.6 L673.3 577.4 L674.6 576.9 L675.8 577.3 L677.1 578.1 L678.3 579.5 L679.6 578.3 L680.8 577.5 L682.0 576.9 L683.3 576.4 L684.5 575.0 L685.8 573.9 L687.0 575.3 L688.4 574.2 L689.8 574.1 L691.2 576.1 L692.6 577.2 L694.0 576.5 L695.0 576.2 L696.0 579.2 L697.0 578.4 L698.0 581.3 L699.0 581.3 L700.2 582.1 L701.5 581.9 L702.7 582.5 L704.0 583.7 L705.2 583.8 L706.4 583.4 L707.7 582.6 L708.9 582.6 L710.1 583.7 L711.4 583.4 L712.6 584.3 L713.8 585.1 L715.1 584.3 L716.3 584.4 L717.6 583.9 L718.8 584.6 L720.0 585.9 L721.3 587.4 L722.5 586.8 L723.8 586.7 L725.0 588.8 L726.3 589.1 L727.5 587.9 L728.8 588.6 L730.0 587.7 L731.3 588.4 L732.5 587.9 L733.8 588.0 L735.0 587.5 L736.2 587.9 L737.5 587.4 L738.7 586.5 L739.9 588.3 L741.2 588.0 L742.4 588.8 L743.7 589.7 L744.9 588.2 L746.1 590.0 L747.4 591.5 L748.6 589.8 L749.8 592.0 L751.0 593.4 L752.2 593.5 L753.4 592.4 L754.5 592.7 L755.7 593.5 L756.9 594.0 L758.1 593.3 L759.3 595.5 L760.5 595.9 L761.8 596.0 L763.2 595.8 L764.5 594.0 L765.8 593.9 L767.2 593.7 L768.5 594.2 L769.7 595.1 L771.0 595.4 L772.2 593.5 L773.5 594.2 L774.7 593.1 L775.9 592.0 L777.2 593.3 L778.4 594.6 L779.5 593.5 L780.6 594.6 L781.7 592.8 L782.8 595.6 L784.0 594.9 L785.1 596.4 L786.2 597.8 L787.3 599.0 L788.4 598.6 L789.6 598.2 L790.9 597.1 L792.1 597.0 L793.3 598.9 L794.6 600.2 L795.8 600.8 L797.1 600.2 L798.3 599.1 L799.5 602.0 L800.8 601.2 L802.0 600.0 L803.2 601.2 L804.5 601.0 L805.7 600.7 L807.0 602.0 L808.2 602.8 L809.5 601.8 L810.7 603.3 L812.0 603.5 L813.2 605.1 L814.5 602.8 L815.7 605.2 L817.0 604.4 L818.2 603.7 L819.4 606.2 L820.7 606.1 L821.9 606.7 L823.2 606.1 L824.4 606.5 L825.6 606.3 L826.9 605.3 L828.1 606.3 L829.3 608.3 L830.5 608.0 L831.6 607.1 L832.8 608.1 L834.0 608.7 L835.2 609.9 L836.4 610.6 L837.5 611.1 L838.7 612.5 L839.9 611.1 L841.1 611.9 L842.4 612.5 L843.6 613.3 L844.9 613.0 L846.1 612.5 L847.4 611.4 L848.6 612.2 L849.9 614.8 L851.1 613.3 L852.4 615.7 L853.6 614.9 L854.8 615.1 L856.1 614.6 L857.3 614.0 L858.6 615.4 L859.8 615.0 L861.0 615.1 L862.3 615.0 L863.5 616.2 L864.8 617.2 L866.0 617.5 L867.2 618.3 L868.5 619.8 L869.7 618.9 L870.9 618.0 L872.1 616.7 L873.3 615.6 L874.5 617.2 L875.7 616.0 L876.9 618.0 L878.1 618.5 L879.3 616.6 L880.5 618.4 L881.7 617.3 L883.0 619.3 L884.3 619.5 L885.7 618.8 L887.0 618.4 L888.3 619.3 L889.6 619.5 L891.0 617.9 L892.3 619.4 L893.6 618.4 L894.7 618.1 L895.8 621.4 L896.9 622.6 L898.0 623.2 L899.1 623.2 L900.2 625.3 L901.3 622.1 L902.4 623.7 L903.5 624.3 L904.8 624.7 L906.0 624.3 L907.2 624.4 L908.5 626.4 L909.8 623.8 L911.0 624.1 L912.2 624.5 L913.5 623.4 L914.6 624.7 L915.8 624.2 L916.9 626.6 L918.0 625.7 L919.1 626.1 L920.3 625.2 L921.4 625.6 L922.6 626.5 L923.8 627.9 L925.0 628.5 L926.2 627.0 L927.3 627.7 L928.5 627.8 L929.7 628.6 L930.9 629.2 L932.1 629.8 L933.3 631.4 L934.5 629.7 L935.8 629.4 L937.0 627.7 L938.3 627.5 L939.5 627.1 L940.8 628.0 L942.0 627.1 L943.3 628.0 L944.5 625.8 L945.8 627.8 L947.0 626.1 L948.2 626.9 L949.5 629.2 L950.7 628.7 L952.0 628.8 L953.2 629.6 L954.3 630.5 L955.5 631.5 L956.6 632.8 L957.7 632.7 L958.8 633.5 L960.0 633.9 L961.1 633.9 L962.3 633.8 L963.5 635.9 L964.7 633.6 L965.9 631.8 L967.1 633.4 L968.3 632.6 L969.5 632.5 L970.7 632.8 L971.9 634.2 L973.1 632.8 L974.3 633.0 L975.5 633.9 L976.7 634.3 L977.9 636.1 L979.2 635.9 L980.4 636.9 L981.6 635.7 L982.8 637.0 L984.0 637.6 L985.2 634.6 L986.4 634.8 L987.6 635.1 L988.8 636.4 L990.1 636.8 L991.3 635.5 L992.5 637.8 L993.7 635.1 L994.9 633.2 L996.1 635.8 L997.4 636.3 L998.6 634.9 L999.8 634.1 L1001.1 635.3 L1002.3 636.5 L1003.6 634.4 L1004.8 637.5 L1006.0 635.7 L1007.2 636.7 L1008.4 636.0 L1009.6 635.4 L1010.8 638.2 L1012.0 636.1 L1013.2 637.4 L1014.4 635.5 L1015.6 637.2 L1016.8 637.3 L1018.1 634.7 L1019.4 636.4 L1020.8 637.0 L1022.1 637.2 L1023.4 638.8 L1024.7 639.4 L1026.1 639.7 L1027.4 637.7 L1028.7 639.7 L1029.9 639.9 L1031.1 638.6 L1032.3 639.7 L1033.5 640.6 L1034.7 641.1 L1035.8 639.2 L1037.0 641.3 L1038.2 641.7 L1039.4 641.2 L1040.6 639.4 L1041.8 639.6 L1043.0 639.5 L1044.2 641.8 L1045.4 641.7 L1046.5 642.1 L1047.7 642.4 L1048.9 642.1 L1050.1 641.6 L1051.3 640.7 L1052.5 642.1 L1053.7 642.0 L1054.9 643.6 L1056.1 642.0 L1057.3 643.9 L1058.5 643.8 L1059.6 642.2 L1060.8 643.8 L1062.0 644.8 L1063.2 643.8 L1064.4 645.5 L1065.6 646.4 L1066.8 644.8 L1068.0 646.3 L1069.2 647.0 L1070.4 646.4 L1071.6 646.8 L1072.8 647.0 L1074.0 645.4 L1075.2 646.7 L1076.4 648.2 L1077.6 646.1 L1078.9 646.7 L1080.1 647.0 L1081.3 648.0 L1082.6 647.5 L1083.8 649.3 L1085.1 650.9 L1086.3 648.8 L1087.4 651.5 L1088.5 651.1 L1089.6 651.4 L1090.7 653.2 L1091.8 654.6 L1092.9 654.0 L1094.0 653.7 L1095.1 655.1 L1096.2 655.4 L1097.4 656.7 L1098.6 654.4 L1099.8 655.0 L1101.0 656.0 L1102.2 655.9 L1103.4 657.7 L1104.6 657.7 L1105.8 656.9 L1107.0 655.4 L1108.2 656.6 L1109.3 657.0 L1110.4 657.5 L1111.5 656.7 L1112.6 659.8 L1113.7 658.5 L1114.8 662.1 L1115.9 661.0 L1117.0 664.0 L1118.1 663.1 L1119.2 661.7 L1120.3 661.9 L1121.5 663.8 L1122.6 665.1 L1123.7 665.7 L1124.8 667.7 L1126.0 667.6 L1127.1 667.1 L1128.2 667.8 L1129.3 668.4 L1130.5 668.2 L1131.6 669.6 L1132.9 671.3 L1134.2 671.0 L1135.5 671.7 L1136.8 670.5 L1138.0 672.4 L1139.3 670.3 L1140.6 670.0 L1141.9 668.7 L1143.2 670.3 L1144.4 670.0 L1145.5 670.8 L1146.7 671.1 L1147.8 671.1 L1149.0 672.4 L1150.2 672.1 L1151.3 672.8 L1152.5 673.7 L1153.6 674.2 L1154.8 672.7 L1156.1 674.1 L1157.3 674.6 L1158.6 673.9 L1159.9 672.0 L1161.1 673.7 L1162.4 674.6 L1163.6 673.4 L1164.9 673.9 L1166.2 674.3 L1167.4 672.1 L1168.7 672.6 L1169.9 675.0 L1171.0 676.0 L1172.2 674.9 L1173.3 676.4 L1174.5 678.9 L1175.7 677.4 L1176.8 678.4 L1178.0 678.7 L1179.1 679.9 L1180.3 680.6 L1181.5 681.2 L1182.6 680.6 L1183.8 681.8 L1184.9 683.1 L1186.1 682.9 L1187.3 682.7 L1188.4 684.3 L1189.6 681.9 L1190.7 682.9 L1191.9 685.6 L1193.1 685.3 L1194.2 684.7 L1195.4 684.7 L1196.5 684.0 L1197.7 683.0 L1198.8 684.1 L1200.0 681.9 L1201.1 685.3 L1202.2 687.0 L1203.4 686.6 L1204.7 683.8 L1206.0 687.0 L1207.2 684.7 L1208.5 684.4 L1209.8 686.1 L1211.1 686.4 L1212.4 686.5 L1213.6 686.1 L1214.9 684.4 L1216.2 683.3 L1217.5 684.6 L1218.7 684.9 L1220.0 685.2 L1221.3 686.3 L1222.6 686.6 L1223.8 687.8 L1225.1 687.0 L1226.4 687.3 L1227.6 685.8 L1228.9 686.5 L1230.2 687.2 L1231.5 687.4 L1232.8 687.3 L1234.1 687.3 L1235.3 687.5 L1236.6 688.4 L1237.9 688.3 L1239.2 687.2 L1240.5 687.6 L1241.8 688.4 L1243.1 688.5 L1244.4 687.1 L1245.7 688.2 L1246.9 689.1 L1248.2 691.0 L1249.5 689.3 L1250.8 689.8 L1252.1 689.1 L1253.3 688.2 L1254.4 689.9 L1255.6 689.5 L1256.7 688.7 L1257.9 690.3 L1259.1 690.2 L1260.2 689.1 L1261.4 690.3 L1262.5 689.2 L1263.7 691.3 L1264.9 691.6 L1266.0 691.5 L1267.2 692.5 L1268.3 692.7 L1269.5 694.2 L1270.7 694.4 L1271.8 694.9 L1273.0 695.2 L1274.1 696.5 L1275.3 695.6 L1276.6 696.3 L1277.9 697.5 L1279.2 698.1 L1280.5 698.7 L1281.7 698.1 L1283.0 699.1 L1284.3 698.9 L1285.6 698.8 L1286.9 698.8 L1288.2 700.1 L1289.4 699.3 L1290.7 699.7 L1292.0 700.0 L1293.2 698.8 L1294.5 700.5 L1295.7 699.4 L1297.0 701.4 L1298.3 699.3 L1299.5 702.0 L1300.8 701.5 L1302.0 701.6 L1303.3 702.2 L1304.5 703.5 L1305.8 702.5 L1307.0 702.9 L1308.3 702.7 L1309.5 704.3 L1310.8 701.2 L1312.0 702.6 L1313.3 704.1 L1314.5 705.0 L1315.8 702.8 L1317.0 701.8 L1318.2 702.4 L1319.3 703.8 L1320.5 705.8 L1321.6 708.6 L1322.8 707.7 L1324.0 708.1 L1325.1 708.6 L1326.3 710.8 L1327.4 710.8 L1328.6 711.8 L1329.9 709.1 L1331.2 710.1 L1332.5 711.8 L1333.8 710.4 L1335.0 708.6 L1336.3 708.5 L1337.6 708.9 L1338.9 707.2 L1340.2 707.3 L1341.5 705.0 L1342.8 707.0 L1344.1 707.6 L1345.4 709.6 L1346.6 708.9 L1347.9 709.0 L1349.2 709.0 L1350.5 708.7 L1351.8 707.6 L1353.0 706.9 L1354.1 707.9 L1355.3 705.7 L1356.5 705.1 L1357.6 706.4 L1358.8 707.8 L1360.1 706.2 L1361.4 705.6 L1362.6 706.9 L1363.9 705.2 L1365.2 707.1 L1366.5 705.4 L1367.7 704.6 L1369.0 706.8 L1370.3 705.3 L1371.6 705.6 L1372.9 706.5 L1374.2 707.2 L1375.5 706.2 L1376.7 705.7 L1378.0 704.6 L1379.3 704.0 L1380.6 702.8 L1381.9 704.5 L1383.2 705.1 L1384.5 705.2 L1385.8 705.2 L1387.1 706.3 L1388.3 706.3 L1389.6 706.9 L1390.9 706.1 L1392.2 706.1 L1393.5 705.9 L1394.8 706.5 L1396.1 703.9 L1397.4 704.0 L1398.7 702.6 L1399.9 706.1 L1401.2 705.1 L1402.5 703.9 L1403.8 704.0 L1405.1 704.2 L1406.1 704.4 L1407.1 702.6 L1408.1 702.3 L1409.1 702.7 L1410.1 701.1 L1411.1 701.1 L1412.1 699.0 L1413.2 700.4 L1414.4 698.4 L1415.5 697.9 L1416.7 696.7 L1417.8 695.0 L1419.0 694.7 L1420.3 695.1 L1421.7 693.3 L1423.0 695.6 L1424.3 693.7 L1425.6 694.3 L1427.0 694.7 L1428.3 695.6 L1429.8 694.2 L1431.2 693.9 L1432.6 693.2 L1434.1 695.3 L1435.3 696.4 L1436.4 694.6 L1437.6 696.4 L1438.7 695.2 L1439.9 697.1 L1441.0 696.7 L1442.2 696.7 L1443.4 698.0 L1444.7 696.2 L1445.9 698.0 L1447.1 698.5 L1448.4 696.5 L1449.6 695.6 L1450.8 697.8 L1452.1 696.8 L1453.3 698.2 L1454.5 696.7 L1455.8 696.0 L1457.0 698.3" fill="none" stroke="#009999" stroke-width="8.5" stroke-linejoin="round" stroke-linecap="butt"/>
<path d="M256.5 477.0 L257.2 476.7 L257.8 475.3 L258.5 473.5 L259.3 472.8 L260.1 471.7 L260.8 471.4 L261.6 468.8 L262.0 466.7 L262.3 466.2 L262.7 466.2 L263.0 464.2 L263.4 462.3 L263.8 462.2 L264.1 458.9 L264.5 459.3 L264.8 458.3 L265.2 457.2 L265.6 455.7 L265.9 454.6 L266.3 454.5 L266.6 454.3 L267.0 451.4 L267.3 451.9 L267.7 449.2 L268.0 449.4 L268.3 449.8 L268.6 447.6 L269.0 445.3 L269.3 444.5 L269.6 444.0 L269.9 441.5 L270.3 442.0 L270.6 439.2 L270.9 438.3 L271.2 436.8 L271.6 436.7 L271.9 434.1 L272.2 432.5 L272.6 430.4 L272.9 429.2 L273.2 427.8 L273.5 429.6 L273.9 428.4 L274.2 426.5 L274.5 425.6 L274.8 423.8 L275.2 422.3 L275.5 423.0 L275.8 420.7 L276.1 418.8 L276.5 416.9 L276.8 417.5 L277.1 413.9 L277.3 414.0 L277.6 412.3 L277.8 412.6 L278.1 410.6 L278.3 408.9 L278.6 409.3 L278.8 406.2 L279.1 404.5 L279.3 405.7 L279.6 401.2 L279.8 400.5 L280.1 400.0 L280.3 398.2 L280.6 397.4 L280.8 395.7 L281.1 394.4 L281.3 393.2 L281.6 392.9 L281.8 392.2 L282.1 389.6 L282.3 390.8 L282.6 387.8 L282.8 387.2 L283.1 383.6 L283.3 384.6 L283.6 383.0 L283.8 381.5 L284.1 379.7 L284.3 379.2 L284.6 377.2 L284.8 376.0 L285.1 373.4 L285.3 374.6 L285.6 372.4 L285.8 371.6 L286.1 371.7 L286.3 368.6 L286.6 365.9 L286.8 364.9 L287.1 363.9 L287.3 361.8 L287.8 361.5 L288.2 360.5 L288.7 361.5 L288.9 359.8 L289.1 357.6 L289.3 355.8 L289.4 353.2 L289.6 352.0 L289.8 353.1 L290.0 350.3 L290.2 349.4 L290.4 349.2 L290.5 345.5 L290.7 346.7 L290.9 345.5 L291.1 344.5 L291.3 341.5 L291.5 342.9 L291.7 340.9 L292.0 339.0 L292.2 338.1 L292.4 335.6 L292.6 336.1 L292.8 333.8 L293.0 331.2 L293.3 330.5 L293.5 328.9 L293.7 327.7 L293.9 325.2 L294.2 325.2 L294.4 324.7 L294.7 323.1 L295.0 321.7 L295.2 321.4 L295.5 318.9 L295.8 319.6 L296.0 317.6 L296.3 314.6 L296.6 316.0 L296.8 312.7 L297.1 311.6 L297.5 313.0 L297.8 310.6 L298.1 309.9 L298.5 309.2 L298.9 306.9 L299.2 307.7 L299.5 302.3 L299.9 303.9 L300.4 302.5 L301.0 302.0 L301.5 299.5 L302.0 299.7 L302.6 298.7 L303.1 297.8 L304.2 297.5 L305.3 295.4 L306.4 293.3 L307.5 293.0 L308.6 292.4 L309.9 293.7 L311.2 291.6 L312.4 293.9 L313.7 293.9 L315.0 293.2 L315.7 297.2 L316.3 297.0 L317.0 297.7 L317.7 300.0 L318.3 300.4 L319.0 301.6 L319.6 301.3 L320.1 301.2 L320.7 305.2 L321.2 305.4 L321.8 306.1 L322.3 308.8 L322.9 307.9 L323.7 309.9 L324.5 310.7 L325.3 313.0 L326.1 313.1 L326.9 314.3 L327.7 314.7 L328.2 315.7 L328.6 316.8 L329.1 318.1 L329.5 318.4 L330.0 320.4 L330.4 321.6 L330.9 321.3 L331.6 323.7 L332.2 325.4 L332.9 326.1 L333.6 328.6 L334.2 329.6 L334.9 330.6 L335.6 329.9 L336.2 332.2 L336.9 332.1 L337.6 335.8 L338.3 335.5 L338.9 334.8 L339.6 337.4 L340.4 338.1 L341.2 337.4 L342.0 340.2 L342.8 341.6 L343.6 341.4 L344.4 344.2 L345.2 346.3 L346.0 343.9 L346.8 347.5 L347.6 347.2 L348.4 349.0 L349.2 351.2 L350.0 351.8 L350.7 353.6 L351.5 354.5 L352.3 355.6 L353.1 355.8 L353.9 356.4 L354.7 356.1 L355.5 357.7 L356.3 359.7 L357.2 360.6 L358.1 361.9 L358.9 363.5 L359.8 363.8 L360.7 364.9 L361.6 364.7 L362.4 367.3 L363.3 367.4 L364.3 366.0 L365.3 367.2 L366.3 368.2 L367.3 368.5 L368.2 369.8 L369.2 370.3 L370.2 370.5 L371.2 373.2 L372.2 374.3 L373.2 374.7 L374.2 376.2 L375.2 374.9 L376.2 375.6 L377.2 376.7 L378.1 379.2 L379.1 376.6 L380.1 377.2 L381.1 378.6 L382.1 379.1 L383.1 380.5 L384.2 380.6 L385.3 381.0 L386.4 380.9 L387.5 383.6 L388.7 382.9 L389.8 383.1 L390.9 384.5 L392.0 385.1 L393.1 385.9 L394.2 385.3 L395.4 386.4 L396.5 386.8 L397.6 386.8 L398.7 387.4 L399.9 388.6 L401.0 390.4 L402.0 390.7 L403.0 390.9 L404.0 393.7 L405.0 393.9 L406.0 396.1 L407.0 395.6 L408.0 395.7 L409.0 394.9 L410.2 397.3 L411.5 397.1 L412.7 397.2 L413.9 399.1 L415.2 399.0 L416.4 399.4 L417.7 399.6 L418.9 400.6 L420.1 401.3 L421.4 402.7 L422.6 401.8 L423.9 402.5 L425.1 405.3 L426.3 403.6 L427.6 404.2 L428.8 404.2 L430.1 405.2 L431.3 407.1 L432.6 405.4 L433.8 406.4 L435.1 405.8 L436.3 406.8 L437.6 405.2 L438.8 405.9 L440.0 406.1 L441.3 407.5 L442.5 408.6 L443.8 407.6 L445.0 406.4 L446.2 406.6 L447.5 406.8 L448.7 404.6 L449.9 405.8 L451.2 406.3 L452.4 403.8 L453.6 404.4 L454.9 405.5 L456.1 406.3 L457.4 406.7 L458.6 405.0 L459.7 404.9 L460.9 405.4 L462.0 405.5 L463.2 404.8 L464.3 407.8 L465.5 408.1 L466.6 409.3 L467.7 409.8 L468.9 410.2 L470.0 410.5 L471.1 408.9 L472.2 411.2 L473.4 413.8 L474.5 415.3 L475.8 415.8 L477.0 414.0 L478.2 415.0 L479.5 415.1 L480.8 414.8 L482.0 418.3 L483.2 418.0 L484.5 418.0 L485.7 418.8 L487.0 420.2 L488.2 419.5 L489.4 418.9 L490.7 420.6 L491.9 420.3 L493.2 421.0 L494.4 419.5 L495.5 422.2 L496.6 420.9 L497.7 422.0 L498.8 422.7 L499.9 423.3 L501.0 423.3 L502.1 424.2 L503.2 426.3 L504.3 426.3 L505.6 425.8 L506.8 425.0 L508.1 426.3 L509.3 427.0 L510.5 428.2 L511.8 429.1 L513.0 430.3 L514.3 429.6 L515.5 428.2 L516.8 429.6 L518.0 430.4 L519.2 430.6 L520.5 431.6 L521.7 432.3 L523.0 432.2 L524.2 434.7 L525.4 434.9 L526.7 434.8 L527.9 433.4 L529.2 434.5 L530.4 433.9 L531.6 434.6 L532.9 435.4 L534.1 436.7 L535.4 436.6 L536.6 433.6 L537.9 436.6 L539.1 435.8 L540.4 436.7 L541.6 436.5 L542.9 438.0 L544.1 439.1 L545.5 440.0 L547.0 438.8 L548.5 437.5 L549.9 438.0 L551.1 438.6 L552.4 438.3 L553.6 437.6 L554.9 435.9 L556.1 434.5 L557.4 436.9 L558.6 436.1 L559.9 436.4 L561.1 434.8 L562.4 436.1 L563.6 435.8 L564.8 437.1 L566.1 435.4 L567.3 437.1 L568.6 436.1 L569.8 438.7 L571.0 436.4 L572.2 436.5 L573.4 435.8 L574.6 436.1 L575.8 435.3 L576.9 435.3 L578.1 435.3 L579.3 436.1 L580.5 436.0 L581.7 436.7 L583.0 434.8 L584.2 434.6 L585.5 433.2 L586.7 434.3 L588.0 432.8 L589.2 432.3 L590.5 432.3 L591.7 431.5 L592.9 431.7 L594.2 434.1 L595.4 431.4 L596.7 431.9 L597.9 429.4 L599.1 429.8 L600.4 430.6 L601.6 429.9 L602.8 429.5 L604.1 427.9 L605.3 429.6 L606.5 426.6 L607.8 425.8 L609.0 426.8 L610.3 426.3 L611.5 426.4 L612.8 423.6 L614.0 424.6 L615.2 424.9 L616.5 423.3 L617.8 423.4 L619.0 423.8 L620.2 420.7 L621.5 421.4 L622.6 421.8 L623.7 422.3 L624.8 420.7 L625.9 421.3 L627.0 419.0 L628.1 418.5 L629.2 418.8 L630.3 417.4 L631.4 419.5 L632.6 417.5 L633.9 416.1 L635.1 416.8 L636.3 416.2 L637.6 415.9 L638.8 415.3 L640.1 413.6 L641.3 414.8 L642.5 413.6 L643.8 415.6 L645.0 413.9 L646.3 412.7 L647.5 413.1 L648.8 413.4 L650.0 411.3 L651.3 412.5 L652.5 412.4 L653.8 411.8 L655.0 413.3 L656.2 412.9 L657.5 411.9 L658.7 410.5 L660.0 408.9 L661.2 410.9 L662.4 408.0 L663.7 408.7 L664.9 409.5 L666.2 407.1 L667.4 407.5 L668.6 407.4 L669.9 408.7 L671.1 406.5 L672.4 407.2 L673.6 407.0 L674.9 407.5 L676.1 407.6 L677.4 406.6 L678.6 405.8 L679.9 407.2 L681.1 406.6 L682.3 407.5 L683.6 408.8 L684.8 408.0 L686.0 406.8 L687.3 408.2 L688.5 408.8 L689.8 410.6 L691.0 409.3 L692.2 410.1 L693.5 409.2 L694.7 409.0 L696.0 409.0 L697.2 407.3 L698.4 408.0 L699.7 409.4 L700.9 407.4 L702.1 407.8 L703.4 408.1 L704.6 408.9 L705.9 408.1 L707.1 408.8 L708.4 410.3 L709.6 408.7 L710.9 408.9 L712.1 409.0 L713.4 409.1 L714.6 409.3 L715.8 409.2 L717.1 410.6 L718.3 409.4 L719.6 409.1 L720.8 410.0 L721.9 410.7 L723.1 409.9 L724.2 411.8 L725.4 413.1 L726.5 413.6 L727.7 414.3 L728.8 415.7 L730.0 416.1 L731.3 416.7 L732.5 416.9 L733.8 419.3 L735.0 418.7 L736.2 417.4 L737.5 418.7 L738.7 419.5 L739.9 420.5 L741.2 420.6 L742.4 419.9 L743.7 420.9 L744.9 421.8 L746.1 420.4 L747.4 421.6 L748.6 420.9 L749.9 421.7 L751.1 421.5 L752.4 424.0 L753.6 421.6 L754.9 421.9 L756.1 421.3 L757.4 421.6 L758.6 424.9 L759.8 423.8 L761.1 422.1 L762.3 421.4 L763.5 422.6 L764.8 422.2 L766.0 421.4 L767.3 422.5 L768.5 420.4 L769.6 422.6 L770.8 423.4 L771.9 422.3 L773.0 423.4 L774.1 424.6 L775.3 424.6 L776.4 427.1 L777.6 426.7 L778.9 426.7 L780.1 425.5 L781.4 426.6 L782.6 427.3 L783.9 427.8 L785.1 429.1 L786.4 426.6 L787.6 426.8 L788.9 427.0 L790.1 427.6 L791.3 427.0 L792.6 428.1 L793.8 428.4 L795.1 429.8 L796.3 429.2 L797.5 431.0 L798.8 429.7 L800.0 430.8 L801.2 431.0 L802.5 429.4 L803.7 428.7 L805.0 430.7 L806.2 430.8 L807.5 429.9 L808.7 430.5 L810.0 430.4 L811.2 430.7 L812.5 430.3 L813.7 431.4 L815.0 432.5 L816.2 431.8 L817.4 431.3 L818.7 434.1 L819.9 433.5 L821.2 434.3 L822.4 434.6 L823.6 434.2 L824.9 435.3 L826.1 435.2 L827.4 434.4 L828.6 435.3 L829.9 435.7 L831.1 434.2 L832.4 436.2 L833.6 437.6 L834.9 437.0 L836.1 436.5 L837.4 438.6 L838.6 437.0 L839.9 436.9 L841.1 436.1 L842.3 437.7 L843.5 436.8 L844.7 435.7 L845.9 435.9 L847.0 437.4 L848.1 437.1 L849.2 438.2 L850.3 438.0 L851.4 437.4 L852.5 438.7 L853.6 440.9 L854.7 439.5 L855.8 442.6 L857.0 440.2 L858.3 442.1 L859.5 442.6 L860.8 442.0 L862.0 441.1 L863.3 441.4 L864.5 440.8 L865.8 443.1 L867.0 444.3 L868.3 444.3 L869.5 443.7 L870.8 443.1 L872.0 442.4 L873.2 441.7 L874.5 442.4 L875.7 442.3 L876.9 442.8 L878.2 441.3 L879.4 442.9 L880.7 443.0 L881.9 443.9 L883.1 443.8 L884.4 443.9 L885.6 444.3 L886.8 443.4 L888.0 444.4 L889.2 446.0 L890.4 445.0 L891.6 444.4 L892.8 444.9 L894.0 444.1 L895.2 444.7 L896.4 445.9 L897.6 445.7 L898.7 447.2 L899.8 447.3 L900.9 447.9 L902.0 448.6 L903.1 448.3 L904.2 448.4 L905.3 450.0 L906.4 449.8 L907.5 450.1 L908.7 451.0 L910.0 449.5 L911.2 451.1 L912.5 450.0 L913.7 450.6 L914.9 451.2 L916.2 451.4 L917.4 451.0 L918.6 452.4 L919.9 453.0 L921.1 451.7 L922.4 452.8 L923.6 451.0 L924.9 451.2 L926.1 450.8 L927.4 452.1 L928.7 453.4 L929.9 454.3 L931.2 451.9 L932.5 453.0 L933.7 452.1 L935.0 454.4 L936.2 453.9 L937.5 452.5 L938.8 452.0 L940.0 453.3 L941.3 453.7 L942.5 451.8 L943.7 453.6 L944.9 454.2 L946.1 454.3 L947.2 452.9 L948.4 453.6 L949.6 453.7 L950.8 457.0 L952.0 456.5 L953.2 457.5 L954.5 456.9 L955.7 455.8 L957.0 457.3 L958.3 457.3 L959.5 456.6 L960.8 457.5 L962.0 455.7 L963.3 456.4 L964.6 457.5 L965.8 456.3 L967.1 456.6 L968.2 458.5 L969.4 459.7 L970.5 459.6 L971.6 459.5 L972.7 459.7 L973.9 460.2 L975.0 462.1 L976.2 461.8 L977.4 461.9 L978.6 462.0 L979.8 463.1 L981.0 461.0 L982.2 462.0 L983.4 461.8 L984.6 462.8 L985.8 464.3 L987.0 463.7 L988.2 462.4 L989.5 461.7 L990.7 463.5 L992.0 463.4 L993.2 464.2 L994.4 461.7 L995.7 461.4 L996.9 463.0 L998.1 463.1 L999.3 463.9 L1000.5 465.2 L1001.7 462.9 L1002.8 463.4 L1004.0 465.1 L1005.2 465.4 L1006.4 464.9 L1007.6 467.1 L1008.8 466.2 L1010.1 465.0 L1011.5 467.3 L1012.8 466.8 L1014.1 468.3 L1015.5 468.4 L1016.8 467.7 L1018.0 468.2 L1019.2 468.9 L1020.4 468.9 L1021.6 468.0 L1022.8 466.7 L1023.9 465.3 L1025.1 467.0 L1026.3 465.7 L1027.5 464.6 L1028.7 466.0 L1029.9 466.2 L1031.2 466.7 L1032.4 467.4 L1033.7 467.4 L1034.9 465.0 L1036.1 467.2 L1037.4 468.4 L1038.6 469.0 L1039.8 468.3 L1041.1 467.8 L1042.3 467.6 L1043.6 469.3 L1044.8 467.8 L1046.1 469.8 L1047.3 468.4 L1048.6 469.1 L1049.8 468.9 L1051.1 470.8 L1052.3 468.1 L1053.5 470.2 L1054.8 469.2 L1056.0 467.7 L1057.3 469.2 L1058.5 468.8 L1059.7 469.3 L1061.0 469.7 L1062.2 469.0 L1063.5 466.7 L1064.7 467.7 L1065.9 467.4 L1067.2 466.3 L1068.4 469.0 L1069.6 469.0 L1070.9 469.0 L1072.1 467.5 L1073.4 469.6 L1074.6 470.2 L1075.9 468.1 L1077.1 469.1 L1078.3 469.1 L1079.6 469.7 L1080.8 469.0 L1082.1 469.6 L1083.3 469.9 L1084.6 467.6 L1085.8 469.8 L1087.1 468.3 L1088.3 470.3 L1089.5 469.0 L1090.7 468.7 L1092.0 469.0 L1093.2 469.4 L1094.4 467.7 L1095.6 470.3 L1096.9 468.8 L1098.1 467.9 L1099.3 470.9 L1100.5 468.5 L1101.8 470.0 L1103.0 469.2 L1104.2 467.9 L1105.4 467.3 L1106.7 469.1 L1107.9 468.5 L1109.2 470.6 L1110.4 467.9 L1111.6 468.9 L1112.9 470.5 L1114.1 471.8 L1115.6 470.6 L1117.0 469.6 L1118.5 472.3 L1120.0 470.7 L1121.3 472.0 L1122.6 470.8 L1123.9 471.3 L1125.2 472.5 L1126.4 471.9 L1127.7 473.5 L1129.0 474.0 L1130.3 473.6 L1131.6 471.1 L1132.9 472.0 L1134.2 472.2 L1135.5 473.1 L1136.8 470.1 L1138.0 470.1 L1139.3 471.4 L1140.6 471.3 L1141.9 470.1 L1143.2 470.9 L1144.5 470.3 L1145.8 470.7 L1147.1 471.2 L1148.4 471.5 L1149.6 471.2 L1150.9 472.0 L1152.2 470.7 L1153.5 472.2 L1154.8 472.3 L1156.0 472.8 L1157.1 472.5 L1158.3 474.7 L1159.4 472.4 L1160.6 473.7 L1161.8 474.1 L1162.9 474.5 L1164.1 475.1 L1165.2 476.5 L1166.4 477.3 L1167.7 477.5 L1168.9 477.5 L1170.2 477.9 L1171.5 477.2 L1172.7 478.2 L1174.0 478.7 L1175.2 477.1 L1176.5 478.8 L1177.8 477.2 L1179.0 478.0 L1180.3 478.1 L1181.6 476.1 L1182.8 477.9 L1184.1 478.7 L1185.4 479.8 L1186.6 478.6 L1187.9 479.9 L1189.1 480.5 L1190.4 482.4 L1191.7 479.8 L1192.9 480.5 L1194.2 481.3 L1195.5 480.0 L1196.7 479.6 L1198.0 481.0 L1199.3 481.8 L1200.5 481.3 L1201.8 481.3 L1203.0 481.5 L1204.3 482.5 L1205.6 481.3 L1206.8 482.9 L1208.1 482.0 L1209.4 484.0 L1210.6 483.0 L1211.9 484.5 L1213.2 485.4 L1214.4 484.1 L1215.7 484.2 L1216.9 484.7 L1218.2 483.9 L1219.5 483.8 L1220.7 483.9 L1222.0 483.9 L1223.3 484.0 L1224.5 485.0 L1225.8 484.0 L1227.1 485.1 L1228.3 486.3 L1229.6 485.5 L1230.8 484.9 L1232.1 484.7 L1233.4 486.4 L1234.6 485.9 L1235.9 485.2 L1237.2 482.7 L1238.5 484.2 L1239.8 484.4 L1241.1 484.5 L1242.3 483.8 L1243.6 483.6 L1244.9 485.9 L1246.2 483.3 L1247.5 483.8 L1248.7 483.9 L1249.8 484.9 L1251.0 486.5 L1252.1 484.8 L1253.3 485.8 L1254.5 485.4 L1255.6 485.5 L1256.8 485.9 L1257.9 487.5 L1259.1 488.3 L1260.4 487.1 L1261.7 490.0 L1263.0 490.6 L1264.3 490.2 L1265.5 490.8 L1266.8 491.4 L1268.1 490.3 L1269.4 489.4 L1270.7 490.1 L1272.0 491.1 L1273.2 491.9 L1274.5 491.7 L1275.8 490.5 L1277.0 491.3 L1278.3 491.0 L1279.5 490.7 L1280.8 491.3 L1282.1 490.9 L1283.3 491.2 L1284.6 489.7 L1285.8 491.1 L1286.9 489.7 L1288.1 492.0 L1289.2 490.5 L1290.4 491.5 L1291.6 493.9 L1292.7 492.6 L1293.9 493.5 L1295.0 495.4 L1296.2 496.0 L1297.4 494.7 L1298.5 494.5 L1299.7 496.2 L1300.8 495.0 L1302.0 496.2 L1303.2 496.2 L1304.3 496.9 L1305.5 496.5 L1306.6 496.7 L1307.8 495.5 L1309.1 497.8 L1310.4 497.1 L1311.7 498.5 L1313.1 498.9 L1314.4 499.2 L1315.7 498.3 L1317.0 497.4 L1318.2 501.0 L1319.3 499.8 L1320.5 501.5 L1321.7 502.7 L1322.8 502.6 L1324.0 505.1 L1325.3 503.7 L1326.7 504.7 L1328.0 503.9 L1329.3 502.0 L1330.6 502.4 L1332.0 502.3 L1333.3 503.6 L1334.5 501.2 L1335.6 502.5 L1336.8 502.0 L1337.9 499.8 L1339.0 500.1 L1340.2 499.8 L1341.3 497.9 L1342.5 498.5 L1343.7 498.0 L1344.8 498.2 L1346.0 498.4 L1347.2 498.1 L1348.3 497.0 L1349.5 496.4 L1350.6 495.7 L1351.8 495.1 L1353.0 497.6 L1354.1 498.0 L1355.3 495.3 L1356.5 496.5 L1357.6 494.5 L1358.8 495.0 L1359.9 493.4 L1361.1 493.0 L1362.3 493.5 L1363.4 491.9 L1364.6 489.6 L1365.8 490.6 L1366.9 492.1 L1368.1 493.6 L1369.2 494.5 L1370.4 494.8 L1371.5 495.6 L1372.7 496.3 L1373.8 496.1 L1375.0 498.6 L1376.2 499.1 L1377.3 497.2 L1378.4 499.5 L1379.6 498.8 L1380.8 500.9 L1381.9 502.0 L1383.1 500.9 L1384.3 501.2 L1385.4 502.4 L1386.6 503.8 L1387.9 502.8 L1389.2 502.6 L1390.4 502.2 L1391.7 502.3 L1393.0 501.8 L1394.3 501.8 L1395.5 501.3 L1396.8 501.4 L1398.1 502.5 L1399.4 502.2 L1400.7 500.8 L1402.0 501.5 L1403.3 501.2 L1404.5 502.8 L1405.8 502.0 L1407.1 501.7 L1408.4 502.8 L1409.7 500.4 L1411.0 501.1 L1412.3 502.5 L1413.6 500.7 L1414.9 502.9 L1416.1 502.6 L1417.4 502.0 L1418.7 502.8 L1420.0 503.4 L1421.3 501.1 L1422.6 501.2 L1423.9 501.1 L1425.2 499.8 L1426.5 501.7 L1427.7 499.2 L1429.0 500.1 L1430.3 498.3 L1431.6 498.0 L1432.9 499.1 L1434.2 499.1 L1435.5 498.2 L1436.8 498.1 L1438.1 498.4 L1439.3 497.4 L1440.6 498.6 L1441.9 498.3 L1443.2 499.4 L1444.5 498.7 L1445.8 500.6 L1447.1 501.1 L1448.4 500.9 L1449.7 500.2 L1451.0 500.9 L1452.2 501.7 L1453.4 502.1 L1454.6 501.2 L1455.8 502.0 L1457.0 503.0" fill="none" stroke="#5458DA" stroke-width="8.5" stroke-linejoin="round" stroke-linecap="butt"/>
<path d="M257.2 279.0 L257.3 279.0 L257.3 274.9 L257.4 274.4 L257.5 275.1 L257.5 273.1 L257.6 270.7 L257.7 270.2 L257.7 269.2 L257.8 267.3 L258.0 265.3 L258.2 265.6 L258.4 265.7 L258.6 262.3 L258.7 261.9 L258.9 260.6 L259.1 257.7 L259.3 255.8 L259.8 255.8 L260.4 255.6 L260.9 255.3 L261.4 252.7 L261.9 252.3 L262.5 251.8 L263.0 250.7 L263.7 249.6 L264.5 248.2 L265.2 246.3 L265.9 245.7 L266.7 245.5 L267.4 242.5 L268.1 241.6 L268.9 241.8 L269.6 242.7 L269.9 241.0 L270.2 239.2 L270.5 236.8 L270.9 235.5 L271.2 232.6 L271.5 232.1 L271.8 231.2 L272.1 231.1 L272.4 228.8 L272.7 226.6 L273.0 226.3 L273.4 227.2 L273.7 226.0 L274.0 225.8 L274.3 223.1 L274.6 223.2 L274.9 220.1 L275.3 217.6 L275.6 217.7 L275.9 215.6 L276.2 215.7 L276.5 214.3 L276.9 213.1 L277.2 210.7 L277.5 209.9 L277.8 210.2 L278.1 207.4 L278.5 206.6 L278.8 205.6 L279.1 206.0 L279.4 206.1 L279.7 204.1 L280.0 201.7 L280.3 199.0 L280.6 198.0 L280.9 198.5 L281.2 195.9 L281.4 196.0 L281.7 196.2 L282.0 193.0 L282.3 192.0 L282.6 189.5 L282.9 188.8 L283.2 187.4 L283.5 186.8 L283.9 185.8 L284.2 186.4 L284.6 183.4 L284.9 183.4 L285.3 182.1 L285.6 180.3 L286.0 178.8 L286.3 178.0 L286.5 178.5 L286.8 176.8 L287.1 173.8 L287.4 172.8 L287.6 172.7 L287.9 171.9 L288.2 170.1 L288.4 168.0 L288.7 168.3 L289.0 166.4 L289.3 165.7 L289.6 165.5 L289.9 161.6 L290.2 162.3 L290.4 159.1 L290.7 158.5 L291.0 155.6 L291.3 154.1 L291.6 152.2 L291.9 153.4 L292.2 151.3 L292.5 150.9 L292.9 150.6 L293.2 148.1 L293.5 148.3 L293.8 147.3 L294.1 146.8 L294.5 145.0 L294.8 142.9 L295.1 141.6 L295.5 140.0 L295.8 139.7 L296.1 138.4 L296.5 136.4 L296.9 135.3 L297.2 135.2 L297.5 134.4 L297.9 133.3 L298.4 132.1 L298.8 130.8 L299.3 129.4 L299.7 127.2 L300.2 124.9 L300.6 124.0 L301.1 122.1 L301.7 121.4 L302.3 121.0 L302.9 120.9 L303.4 119.0 L304.0 118.0 L304.6 117.5 L305.8 117.6 L307.0 118.3 L308.2 117.0 L309.3 118.0 L310.4 118.6 L311.5 120.1 L312.6 120.1 L313.6 120.1 L314.6 123.1 L315.6 120.7 L316.6 123.7 L317.8 121.7 L319.0 124.8 L320.1 126.1 L321.3 123.5 L322.1 125.9 L322.9 127.5 L323.7 128.3 L324.5 128.0 L325.3 131.1 L326.1 134.1 L326.9 134.5 L327.7 135.5 L328.5 136.8 L329.3 138.4 L330.1 137.8 L330.9 139.2 L331.7 139.6 L332.5 141.7 L333.3 143.5 L334.1 143.6 L334.9 145.3 L335.5 145.8 L336.2 145.0 L336.9 145.5 L337.5 147.7 L338.1 148.0 L338.8 151.7 L339.8 152.1 L340.7 152.2 L341.7 153.4 L342.6 155.4 L343.6 154.4 L344.4 156.1 L345.2 156.7 L346.0 159.4 L346.8 158.7 L347.6 160.8 L348.4 160.6 L349.6 162.1 L350.8 162.4 L351.9 160.4 L353.1 162.9 L354.2 163.3 L355.3 165.5 L356.5 166.1 L357.6 167.4 L358.7 168.5 L359.8 167.7 L360.9 168.8 L362.1 171.3 L363.2 170.5 L364.3 172.5 L365.1 171.7 L365.9 174.6 L366.6 173.9 L367.4 174.9 L368.2 174.9 L369.0 177.8 L369.8 176.5 L370.6 179.2 L371.7 180.3 L372.7 179.2 L373.8 182.2 L374.9 182.6 L375.9 183.6 L377.0 182.5 L378.0 185.3 L379.1 185.6 L380.2 186.7 L381.3 185.4 L382.4 187.3 L383.5 188.4 L384.7 189.5 L385.8 190.4 L386.9 189.7 L388.0 190.1 L389.1 191.4 L390.2 190.8 L391.4 193.2 L392.5 193.1 L393.6 194.5 L394.7 193.7 L395.9 195.2 L397.0 194.9 L398.0 195.5 L399.0 196.4 L400.0 196.8 L401.0 197.7 L402.0 198.3 L403.0 200.6 L404.0 200.8 L405.0 201.7 L406.1 204.4 L407.2 203.3 L408.3 204.3 L409.4 206.8 L410.6 206.3 L411.7 207.8 L412.8 209.4 L413.9 207.8 L415.2 207.9 L416.5 207.9 L417.8 206.7 L419.0 206.7 L420.3 206.1 L421.6 206.0 L422.9 206.1 L424.1 204.2 L425.4 202.3 L426.6 201.6 L427.9 203.1 L429.1 202.2 L430.3 202.6 L431.6 201.8 L432.8 201.2 L434.1 201.8 L435.4 200.7 L436.8 201.0 L438.1 201.5 L439.4 199.3 L440.7 202.1 L442.0 199.8 L443.3 200.7 L444.6 200.7 L445.8 200.7 L447.1 201.6 L448.4 199.7 L449.7 201.9 L451.1 200.4 L452.5 202.6 L453.8 201.9 L455.2 203.8 L456.6 200.6 L457.7 203.3 L458.9 203.2 L460.0 204.5 L461.2 203.2 L462.3 202.9 L463.5 202.9 L464.6 204.8 L465.7 206.8 L466.8 208.1 L467.9 209.6 L469.0 209.3 L470.1 209.8 L471.2 211.1 L472.3 211.1 L473.4 212.2 L474.5 212.7 L475.5 213.0 L476.5 214.6 L477.5 214.0 L478.5 215.9 L479.5 216.4 L480.5 218.9 L481.5 217.9 L482.6 217.6 L483.7 219.0 L484.8 217.5 L485.9 217.6 L487.1 219.1 L488.2 220.9 L489.3 220.7 L490.4 223.5 L491.6 223.5 L492.9 224.5 L494.1 222.1 L495.4 223.4 L496.6 223.4 L497.8 222.0 L499.1 222.8 L500.3 222.6 L501.4 224.4 L502.6 223.1 L503.7 223.3 L504.9 224.0 L506.0 224.9 L507.2 226.4 L508.3 227.5 L509.4 227.5 L510.6 229.1 L511.7 227.9 L512.8 229.1 L513.9 228.3 L515.1 230.8 L516.2 231.5 L517.2 230.4 L518.2 231.6 L519.2 232.2 L520.2 231.5 L521.2 233.0 L522.2 233.3 L523.2 235.9 L524.2 236.1 L525.2 236.0 L526.6 237.5 L528.0 237.2 L529.3 235.2 L530.7 233.6 L532.1 236.7 L533.4 236.2 L534.6 235.5 L535.9 236.6 L537.1 236.9 L538.4 236.3 L539.6 236.7 L540.9 236.5 L542.1 237.8 L543.6 237.5 L545.0 236.3 L546.5 236.9 L548.0 234.9 L549.1 236.2 L550.3 236.1 L551.4 233.8 L552.5 234.1 L553.6 234.7 L554.8 233.6 L555.9 233.3 L557.1 231.0 L558.4 230.8 L559.6 231.4 L560.8 233.8 L562.1 231.9 L563.3 233.3 L564.6 232.5 L565.8 232.8 L567.0 231.0 L568.3 230.4 L569.5 231.1 L570.8 230.2 L572.0 231.3 L573.3 230.4 L574.5 228.5 L575.8 228.7 L577.0 228.8 L578.3 228.3 L579.5 228.7 L580.8 229.2 L582.0 228.2 L583.2 229.9 L584.5 226.5 L585.7 228.3 L586.9 226.9 L588.2 227.9 L589.4 224.8 L590.7 223.5 L591.9 224.7 L593.1 226.1 L594.4 225.5 L595.6 225.3 L596.7 222.9 L597.9 222.6 L599.0 221.1 L600.2 222.5 L601.3 221.5 L602.5 221.7 L603.6 221.1 L604.8 221.0 L606.0 219.0 L607.1 216.8 L608.3 216.4 L609.5 217.3 L610.8 215.3 L612.0 216.2 L613.2 215.6 L614.5 215.0 L615.8 214.3 L617.0 215.1 L618.2 214.9 L619.5 215.2 L620.6 215.1 L621.8 214.2 L622.9 213.0 L624.0 211.5 L625.1 212.1 L626.3 210.4 L627.4 208.9 L628.5 209.8 L629.7 209.7 L630.8 206.3 L632.0 208.4 L633.1 209.7 L634.3 207.1 L635.4 208.0 L636.7 208.6 L638.0 209.5 L639.3 206.8 L640.7 208.2 L642.0 208.8 L643.3 210.4 L644.4 209.7 L645.6 207.9 L646.7 207.3 L647.9 205.1 L649.0 204.2 L650.2 205.0 L651.3 203.5 L652.6 204.1 L653.9 202.7 L655.2 203.8 L656.6 201.6 L657.9 200.2 L659.2 201.2 L660.5 198.5 L661.9 199.7 L663.2 199.9 L664.5 200.1 L665.9 201.4 L667.2 202.1 L668.3 201.5 L669.5 202.1 L670.6 204.1 L671.7 203.3 L672.8 203.3 L674.0 205.0 L675.1 204.5 L676.4 206.1 L677.8 207.5 L679.1 208.2 L680.4 206.8 L681.8 206.8 L683.1 207.5 L684.4 205.7 L685.7 206.1 L687.0 206.8 L688.4 207.0 L689.7 204.5 L691.0 203.4 L692.3 204.3 L693.7 205.7 L695.0 205.9 L696.3 207.2 L697.7 208.7 L699.0 207.2 L700.2 207.9 L701.5 208.8 L702.7 207.6 L704.0 207.6 L705.2 209.5 L706.4 208.9 L707.7 210.2 L708.9 210.2 L710.1 212.2 L711.4 211.6 L712.6 210.3 L713.8 212.6 L715.1 211.8 L716.3 214.4 L717.6 213.1 L718.8 214.3 L720.0 214.3 L721.3 214.2 L722.5 213.8 L723.8 214.3 L725.0 213.9 L726.3 212.8 L727.5 214.1 L728.8 216.7 L730.0 214.2 L731.3 214.9 L732.5 214.9 L733.8 216.4 L735.0 216.8 L736.2 218.0 L737.5 216.4 L738.7 218.3 L739.9 217.0 L741.2 218.8 L742.4 217.8 L743.7 219.9 L744.9 219.2 L746.1 218.3 L747.4 217.2 L748.6 217.4 L749.9 216.8 L751.1 217.4 L752.4 217.4 L753.6 217.6 L754.9 219.3 L756.1 217.4 L757.4 217.4 L758.6 218.8 L759.7 219.7 L760.9 222.8 L762.0 222.4 L763.1 224.9 L764.2 224.8 L765.4 222.4 L766.5 223.1 L767.8 223.0 L769.2 222.1 L770.5 224.0 L771.8 223.1 L773.2 222.5 L774.5 222.3 L775.7 222.4 L777.0 223.1 L778.2 221.6 L779.5 222.8 L780.7 221.7 L781.9 223.2 L783.2 224.1 L784.4 223.8 L785.6 223.9 L786.9 222.4 L788.1 222.2 L789.3 224.8 L790.6 225.0 L791.8 224.5 L793.1 225.2 L794.3 225.3 L795.6 223.9 L797.0 224.6 L798.3 226.0 L799.6 225.2 L801.0 226.1 L802.3 228.4 L803.5 227.8 L804.8 227.6 L806.0 227.4 L807.2 226.4 L808.5 228.9 L809.7 228.8 L811.0 227.6 L812.2 228.2 L813.4 228.2 L814.7 227.7 L815.9 229.4 L817.2 229.5 L818.4 227.8 L819.6 228.6 L820.9 229.3 L822.1 231.0 L823.4 229.5 L824.8 228.1 L826.1 227.2 L827.4 226.4 L828.8 226.8 L830.1 225.6 L831.2 227.5 L832.3 226.9 L833.4 230.1 L834.6 231.6 L835.7 231.6 L836.8 232.0 L837.9 231.4 L839.0 229.9 L840.2 229.1 L841.3 229.8 L842.5 228.1 L843.6 226.6 L844.8 226.2 L845.9 225.2 L846.6 227.3 L847.2 228.6 L847.9 229.0 L848.6 229.6 L849.2 230.9 L849.9 232.4 L851.1 231.1 L852.4 232.1 L853.6 232.6 L854.8 232.8 L856.1 231.3 L857.3 231.8 L858.6 232.3 L859.8 233.0 L861.0 231.4 L862.3 231.0 L863.5 231.8 L864.8 230.7 L866.0 232.5 L867.2 232.5 L868.5 232.3 L869.7 231.3 L871.0 233.0 L872.2 232.1 L873.5 232.9 L874.7 231.6 L876.0 233.6 L877.2 233.6 L878.5 234.4 L879.7 236.9 L880.9 234.4 L882.2 233.3 L883.4 233.2 L884.7 232.1 L885.9 234.0 L887.1 230.7 L888.4 232.1 L889.6 232.3 L890.8 232.7 L892.1 231.4 L893.3 233.1 L894.5 231.8 L895.8 233.2 L897.0 234.2 L898.3 234.7 L899.5 234.4 L900.8 233.0 L902.0 234.6 L903.2 233.8 L904.5 232.7 L905.8 232.4 L907.0 232.0 L908.2 232.4 L909.5 233.7 L910.7 231.7 L912.0 231.1 L913.2 232.0 L914.5 231.5 L915.7 231.9 L916.9 232.6 L918.2 231.2 L919.4 233.1 L920.6 233.1 L921.9 233.6 L923.1 233.8 L924.3 233.6 L925.6 235.2 L926.8 235.6 L928.1 236.3 L929.3 236.5 L930.5 233.5 L931.8 234.3 L933.0 233.1 L934.3 233.5 L935.5 232.9 L936.8 235.0 L938.0 234.1 L939.3 234.3 L940.5 231.3 L941.8 232.1 L943.0 233.0 L944.2 231.3 L945.5 232.4 L946.7 233.5 L948.0 235.2 L949.2 236.0 L950.3 235.7 L951.4 234.3 L952.5 235.6 L953.6 233.7 L954.7 234.5 L955.8 235.2 L956.9 235.6 L958.0 234.8 L959.1 236.5 L960.4 238.1 L961.6 239.4 L962.9 239.0 L964.1 241.5 L965.4 239.8 L966.6 240.4 L967.9 241.2 L969.1 239.7 L970.3 241.3 L971.6 239.7 L972.8 240.1 L974.0 238.3 L975.3 237.8 L976.5 240.1 L977.8 240.1 L979.0 239.0 L980.2 239.7 L981.5 241.4 L982.7 239.8 L984.0 240.7 L985.2 240.7 L986.4 240.3 L987.7 241.9 L988.9 242.0 L990.2 240.5 L991.6 239.8 L992.9 238.8 L994.2 239.8 L995.6 240.6 L996.9 238.2 L998.0 240.8 L999.2 241.4 L1000.3 240.7 L1001.4 240.3 L1002.5 242.8 L1003.7 242.2 L1004.8 241.1 L1006.0 243.3 L1007.3 242.8 L1008.5 241.3 L1009.8 243.1 L1011.0 243.5 L1012.3 242.8 L1013.5 241.8 L1014.8 241.8 L1016.0 242.6 L1017.3 242.9 L1018.5 242.6 L1019.8 240.1 L1021.0 240.3 L1022.2 241.1 L1023.5 240.8 L1024.7 242.0 L1026.0 241.8 L1027.4 240.3 L1028.7 239.8 L1030.0 240.5 L1031.4 240.2 L1032.7 240.0 L1033.9 240.1 L1035.1 240.3 L1036.2 242.8 L1037.4 242.8 L1038.6 242.3 L1039.7 242.9 L1040.9 243.7 L1042.0 244.2 L1043.2 244.7 L1044.3 244.9 L1045.5 246.8 L1046.6 247.0 L1047.8 247.3 L1049.1 248.7 L1050.3 249.1 L1051.5 248.1 L1052.8 247.3 L1054.0 246.6 L1055.3 247.4 L1056.5 249.3 L1057.6 248.8 L1058.8 247.7 L1059.9 249.5 L1061.0 249.8 L1062.1 249.8 L1063.3 250.4 L1064.4 249.1 L1065.7 252.1 L1066.9 251.2 L1068.2 252.4 L1069.4 251.7 L1070.7 253.5 L1071.9 252.0 L1073.2 252.1 L1074.4 251.9 L1075.6 253.7 L1076.9 254.4 L1078.1 254.5 L1079.3 256.2 L1080.6 256.5 L1081.8 255.2 L1083.1 258.3 L1084.3 256.9 L1085.5 257.1 L1086.8 257.1 L1088.0 258.2 L1089.2 260.0 L1090.5 261.0 L1091.7 258.6 L1093.0 258.5 L1094.2 259.2 L1095.5 259.0 L1096.7 259.0 L1098.0 260.3 L1099.2 261.1 L1100.5 260.2 L1101.7 261.9 L1103.0 261.7 L1104.2 262.0 L1105.4 262.2 L1106.7 261.4 L1107.9 263.5 L1109.2 263.8 L1110.4 264.0 L1111.6 264.9 L1112.9 264.0 L1114.1 264.4 L1115.3 263.8 L1116.6 267.6 L1117.8 264.5 L1119.1 265.4 L1120.3 264.2 L1121.6 264.4 L1122.8 266.7 L1124.1 267.5 L1125.3 266.3 L1126.6 264.9 L1127.8 265.4 L1129.1 266.3 L1130.3 267.7 L1131.6 266.6 L1132.8 267.4 L1133.9 266.1 L1135.1 268.2 L1136.2 268.8 L1137.4 268.5 L1138.6 269.5 L1139.7 268.3 L1140.9 269.8 L1142.0 270.0 L1143.2 271.6 L1144.5 270.6 L1145.8 269.7 L1147.1 270.3 L1148.4 270.7 L1149.6 273.0 L1150.9 274.1 L1152.2 272.1 L1153.5 273.6 L1154.8 274.3 L1156.1 272.5 L1157.4 272.7 L1158.7 272.6 L1160.0 272.1 L1161.2 275.0 L1162.5 273.6 L1163.8 273.4 L1165.1 273.1 L1166.4 275.1 L1167.6 274.6 L1168.7 273.5 L1169.9 273.9 L1171.0 274.2 L1172.2 274.0 L1173.4 274.3 L1174.5 275.2 L1175.7 275.5 L1176.8 277.8 L1178.0 278.2 L1179.3 277.4 L1180.6 278.7 L1181.8 279.0 L1183.1 278.6 L1184.4 276.7 L1185.7 278.8 L1186.9 278.0 L1188.2 280.9 L1189.5 279.9 L1190.8 279.1 L1192.1 279.1 L1193.4 279.7 L1194.7 280.1 L1195.9 280.9 L1197.2 281.2 L1198.5 281.7 L1199.8 280.5 L1201.1 279.4 L1202.4 281.5 L1203.7 279.7 L1205.0 281.8 L1206.3 280.8 L1207.5 282.0 L1208.8 281.9 L1210.1 282.8 L1211.4 282.5 L1212.7 282.3 L1214.0 283.4 L1215.3 282.7 L1216.6 284.5 L1217.9 284.9 L1219.1 285.1 L1220.4 286.8 L1221.7 284.7 L1223.0 285.4 L1224.3 286.3 L1225.6 285.4 L1226.9 285.0 L1228.2 285.4 L1229.5 286.5 L1230.7 285.4 L1232.0 286.0 L1233.3 287.1 L1234.6 286.3 L1235.9 288.9 L1237.2 288.3 L1238.5 288.8 L1239.8 285.9 L1241.1 287.0 L1242.3 285.1 L1243.6 287.1 L1244.9 286.7 L1246.2 285.7 L1247.5 286.0 L1248.8 285.3 L1250.1 285.6 L1251.4 285.0 L1252.7 286.0 L1253.9 286.5 L1255.2 284.6 L1256.5 285.7 L1257.8 287.0 L1259.1 285.2 L1260.4 286.9 L1261.7 287.6 L1263.0 287.1 L1264.3 289.1 L1265.5 288.5 L1266.8 286.4 L1268.1 286.6 L1269.4 291.0 L1270.7 288.2 L1272.0 289.4 L1273.3 287.9 L1274.6 288.6 L1275.9 288.5 L1277.1 286.8 L1278.4 290.3 L1279.7 290.8 L1281.0 290.4 L1282.3 290.3 L1283.5 290.3 L1284.6 290.0 L1285.8 292.8 L1286.9 292.4 L1288.0 293.4 L1289.2 294.2 L1290.3 291.7 L1291.5 291.9 L1292.7 292.3 L1293.8 292.5 L1295.0 292.7 L1296.2 292.0 L1297.3 292.7 L1298.5 291.3 L1299.7 293.2 L1300.8 292.7 L1302.0 292.4 L1303.1 293.0 L1304.2 293.8 L1305.4 291.9 L1306.7 292.9 L1308.0 293.1 L1309.3 294.6 L1310.6 294.3 L1311.8 294.7 L1313.1 295.0 L1314.4 295.8 L1315.7 296.3 L1317.0 295.5 L1318.2 295.3 L1319.3 297.0 L1320.5 298.1 L1321.7 298.0 L1322.8 299.1 L1324.0 298.6 L1325.2 298.2 L1326.3 298.7 L1327.5 296.5 L1328.7 297.2 L1329.8 296.8 L1331.0 295.4 L1332.1 295.5 L1333.3 296.4 L1334.6 294.3 L1335.9 296.2 L1337.1 295.5 L1338.4 294.3 L1339.7 294.7 L1341.0 295.2 L1342.2 295.2 L1343.5 295.4 L1344.8 295.0 L1346.0 295.2 L1347.3 295.7 L1348.5 295.4 L1349.8 297.0 L1351.0 296.8 L1352.2 296.6 L1353.5 296.5 L1354.7 293.7 L1356.0 295.3 L1357.2 296.4 L1358.4 295.7 L1359.7 297.6 L1360.9 295.4 L1362.2 295.8 L1363.4 295.2 L1364.6 297.2 L1365.8 297.0 L1367.1 297.1 L1368.3 297.9 L1369.5 298.1 L1370.7 297.8 L1371.9 294.8 L1373.2 297.2 L1374.4 295.8 L1375.6 296.2 L1376.8 296.5 L1378.1 297.0 L1379.3 295.9 L1380.5 294.3 L1381.7 295.1 L1382.9 295.3 L1384.2 295.9 L1385.4 295.3 L1386.6 296.4 L1387.9 296.4 L1389.2 297.3 L1390.4 295.7 L1391.7 295.5 L1393.0 296.5 L1394.3 295.7 L1395.5 296.6 L1396.8 295.8 L1398.1 294.8 L1399.4 295.4 L1400.6 295.4 L1401.9 294.2 L1403.1 294.8 L1404.4 294.1 L1405.6 294.5 L1406.9 292.7 L1408.1 294.2 L1409.4 295.3 L1410.6 293.1 L1411.9 294.5 L1413.1 294.8 L1414.4 294.8 L1415.7 292.4 L1416.9 292.0 L1418.2 293.5 L1419.5 292.7 L1420.7 292.5 L1422.0 291.8 L1423.2 292.3 L1424.5 293.7 L1425.8 291.3 L1427.0 292.2 L1428.3 295.1 L1429.6 295.6 L1430.9 294.6 L1432.2 294.8 L1433.5 293.3 L1434.7 294.1 L1436.0 292.5 L1437.3 294.2 L1438.6 293.7 L1439.9 292.6 L1441.2 291.4 L1442.6 292.1 L1443.9 291.4 L1445.2 289.8 L1446.5 292.0 L1447.9 290.9 L1449.2 289.1 L1450.5 291.8 L1451.8 289.3 L1453.1 288.9 L1454.4 292.6 L1455.7 291.1 L1457.0 291.0" fill="none" stroke="#F0087C" stroke-width="8.5" stroke-linejoin="round" stroke-linecap="butt"/>
</g>
<line x1="254.6" y1="280.00" x2="1428.8" y2="306.81" stroke="#000" stroke-width="6" stroke-linecap="round" stroke-dasharray="16.6 23.33"/>
<line x1="260.7" y1="478.10" x2="1354.6" y2="505.64" stroke="#000" stroke-width="6" stroke-linecap="round" stroke-dasharray="16.6 23.33"/>
<line x1="252.7" y1="665.20" x2="1386.4" y2="713.27" stroke="#000" stroke-width="6" stroke-linecap="round" stroke-dasharray="16.6 23.33"/>
<line x1="256.3" y1="856.70" x2="1431.1" y2="844.13" stroke="#000" stroke-width="6" stroke-linecap="round" stroke-dasharray="16.6 23.38"/>
<line x1="550" y1="50.4" x2="550" y2="873.9" stroke="#000" stroke-width="6" stroke-linecap="round" stroke-dasharray="16.7 23.70"/>
<line x1="1026" y1="42.7" x2="1026" y2="866.4" stroke="#000" stroke-width="6" stroke-linecap="round" stroke-dasharray="16.7 23.70"/>
<text x="98.1" y="79.1" font-family="Liberation Sans, Arial, sans-serif" font-size="52.8" fill="#000" textLength="128.9" lengthAdjust="spacingAndGlyphs">3.568</text>
<text x="98.1" y="245.9" font-family="Liberation Sans, Arial, sans-serif" font-size="52.8" fill="#000" textLength="128.9" lengthAdjust="spacingAndGlyphs">3.564</text>
<text x="98.1" y="412.7" font-family="Liberation Sans, Arial, sans-serif" font-size="52.8" fill="#000" textLength="128.9" lengthAdjust="spacingAndGlyphs">3.560</text>
<text x="98.1" y="579.5" font-family="Liberation Sans, Arial, sans-serif" font-size="52.8" fill="#000" textLength="128.9" lengthAdjust="spacingAndGlyphs">3.556</text>
<text x="98.1" y="746.3" font-family="Liberation Sans, Arial, sans-serif" font-size="52.8" fill="#000" textLength="128.9" lengthAdjust="spacingAndGlyphs">3.552</text>
<text x="98.1" y="913.1" font-family="Liberation Sans, Arial, sans-serif" font-size="52.8" fill="#000" textLength="128.9" lengthAdjust="spacingAndGlyphs">3.548</text>
<text x="293.4" y="990.7" font-family="Liberation Sans, Arial, sans-serif" font-size="52.4" fill="#000" textLength="85.94" lengthAdjust="spacingAndGlyphs">100</text>
<text x="453.2" y="990.7" font-family="Liberation Sans, Arial, sans-serif" font-size="52.4" fill="#000" textLength="85.94" lengthAdjust="spacingAndGlyphs">200</text>
<text x="613.0" y="990.7" font-family="Liberation Sans, Arial, sans-serif" font-size="52.4" fill="#000" textLength="85.94" lengthAdjust="spacingAndGlyphs">300</text>
<text x="772.8" y="990.7" font-family="Liberation Sans, Arial, sans-serif" font-size="52.4" fill="#000" textLength="85.94" lengthAdjust="spacingAndGlyphs">400</text>
<text x="932.6" y="990.7" font-family="Liberation Sans, Arial, sans-serif" font-size="52.4" fill="#000" textLength="85.94" lengthAdjust="spacingAndGlyphs">500</text>
<text x="1092.4" y="990.7" font-family="Liberation Sans, Arial, sans-serif" font-size="52.4" fill="#000" textLength="85.94" lengthAdjust="spacingAndGlyphs">600</text>
<text x="1252.2" y="990.7" font-family="Liberation Sans, Arial, sans-serif" font-size="52.4" fill="#000" textLength="85.94" lengthAdjust="spacingAndGlyphs">700</text>
<text x="1412.0" y="990.7" font-family="Liberation Sans, Arial, sans-serif" font-size="52.4" fill="#000" textLength="85.94" lengthAdjust="spacingAndGlyphs">800</text>
<text x="857" y="1053.5" font-family="Liberation Sans, Arial, sans-serif" font-size="52.6" font-weight="bold" text-anchor="middle" fill="#000" textLength="404" lengthAdjust="spacingAndGlyphs">Temperature (°C)</text>
<g transform="translate(54.4 0) rotate(-90)"><text id="yl0" x="-751" y="0" font-family="Liberation Sans, Arial, sans-serif" font-size="53" font-weight="bold" fill="#000" textLength="77.3" lengthAdjust="spacingAndGlyphs">CO</text><text id="yl1" x="-672" y="19.8" font-family="Liberation Sans, Arial, sans-serif" font-size="53" font-weight="bold" fill="#000" textLength="28.7" lengthAdjust="spacingAndGlyphs">2</text><text id="yl2" x="-629.8" y="0" font-family="Liberation Sans, Arial, sans-serif" font-size="53" font-weight="bold" fill="#000" textLength="275" lengthAdjust="spacingAndGlyphs">Desorption</text><text id="yl3" x="-340.5" y="0" font-family="Liberation Sans, Arial, sans-serif" font-size="53" font-weight="bold" fill="#000" textLength="126.5" lengthAdjust="spacingAndGlyphs">(a.u.)</text></g>
<text x="338.3" y="87.6" font-family="Liberation Sans, Arial, sans-serif" font-size="46.2" font-weight="bold" fill="#8B0085" textLength="107.3" lengthAdjust="spacingAndGlyphs">Weak</text>
<text x="680" y="84.6" font-family="Liberation Sans, Arial, sans-serif" font-size="46.2" font-weight="bold" fill="#8B0085" textLength="184" lengthAdjust="spacingAndGlyphs">Moderate</text>
<text x="1175.8" y="86.4" font-family="Liberation Sans, Arial, sans-serif" font-size="46.2" font-weight="bold" fill="#8B0085" textLength="134" lengthAdjust="spacingAndGlyphs">Strong</text>
<text id="pink0" x="1143.0" y="357.0" font-family="Liberation Serif, Times New Roman, serif" font-size="42.8" font-weight="bold" fill="#F0087C" textLength="64.4" lengthAdjust="spacingAndGlyphs">5Ni</text>
<text id="pink1" x="1203.7" y="357.0" font-family="Liberation Sans, Arial, sans-serif" font-size="42.0" font-weight="bold" fill="#F0087C" textLength="47.3" lengthAdjust="spacingAndGlyphs">/Al</text>
<text id="pink2" x="1251.2" y="372.6" font-family="Liberation Sans, Arial, sans-serif" font-size="22.4" font-weight="normal" fill="#F0087C" stroke="#F0087C" stroke-width="0.9" textLength="27.4" lengthAdjust="spacingAndGlyphs">0.1</text>
<text id="pink3" x="1280.6" y="357.0" font-family="Liberation Sans, Arial, sans-serif" font-size="42.0" font-weight="bold" fill="#F0087C" textLength="27.3" lengthAdjust="spacingAndGlyphs">Y</text>
<text id="pink4" x="1307.4" y="372.6" font-family="Liberation Sans, Arial, sans-serif" font-size="22.4" font-weight="normal" fill="#F0087C" stroke="#F0087C" stroke-width="0.9" textLength="28.5" lengthAdjust="spacingAndGlyphs">0.9</text>
<text id="pink5" x="1336.8" y="357.0" font-family="Liberation Sans, Arial, sans-serif" font-size="42.0" font-weight="bold" fill="#F0087C" textLength="30.9" lengthAdjust="spacingAndGlyphs">O</text>
<text id="pink6" x="1367.0" y="372.6" font-family="Liberation Sans, Arial, sans-serif" font-size="22.4" font-weight="normal" fill="#F0087C" stroke="#F0087C" stroke-width="0.9" textLength="10.8" lengthAdjust="spacingAndGlyphs">x</text>
<text id="blue0" x="1148.9" y="554.0" font-family="Liberation Sans, Arial, sans-serif" font-size="42.0" font-weight="bold" fill="#5458DA" textLength="107.6" lengthAdjust="spacingAndGlyphs">5Ni/Zr</text>
<text id="blue1" x="1255.8" y="569.6" font-family="Liberation Sans, Arial, sans-serif" font-size="22.4" font-weight="normal" fill="#5458DA" stroke="#5458DA" stroke-width="0.9" textLength="27.6" lengthAdjust="spacingAndGlyphs">0.1</text>
<text id="blue2" x="1285.2" y="554.0" font-family="Liberation Sans, Arial, sans-serif" font-size="42.0" font-weight="bold" fill="#5458DA" textLength="27.6" lengthAdjust="spacingAndGlyphs">Y</text>
<text id="blue3" x="1312.1" y="569.6" font-family="Liberation Sans, Arial, sans-serif" font-size="22.4" font-weight="normal" fill="#5458DA" stroke="#5458DA" stroke-width="0.9" textLength="29.5" lengthAdjust="spacingAndGlyphs">0.9</text>
<text id="blue4" x="1343.0" y="554.0" font-family="Liberation Sans, Arial, sans-serif" font-size="42.0" font-weight="bold" fill="#5458DA" textLength="29.5" lengthAdjust="spacingAndGlyphs">O</text>
<text id="blue5" x="1373.9" y="569.6" font-family="Liberation Sans, Arial, sans-serif" font-size="22.4" font-weight="normal" fill="#5458DA" stroke="#5458DA" stroke-width="0.9" textLength="10.9" lengthAdjust="spacingAndGlyphs">x</text>
<text id="teal0" x="1155.3" y="768.9" font-family="Liberation Sans, Arial, sans-serif" font-size="42.0" font-weight="bold" fill="#009999" textLength="119.3" lengthAdjust="spacingAndGlyphs">5Ni/Ce</text>
<text id="teal1" x="1274.2" y="784.7" font-family="Liberation Sans, Arial, sans-serif" font-size="22.4" font-weight="normal" fill="#009999" stroke="#009999" stroke-width="0.9" textLength="27.8" lengthAdjust="spacingAndGlyphs">0.1</text>
<text id="teal2" x="1303.3" y="768.9" font-family="Liberation Sans, Arial, sans-serif" font-size="42.0" font-weight="bold" fill="#009999" textLength="27.7" lengthAdjust="spacingAndGlyphs">Y</text>
<text id="teal3" x="1329.8" y="784.7" font-family="Liberation Sans, Arial, sans-serif" font-size="22.4" font-weight="normal" fill="#009999" stroke="#009999" stroke-width="0.9" textLength="31.5" lengthAdjust="spacingAndGlyphs">0.9</text>
<text id="teal4" x="1359.8" y="768.9" font-family="Liberation Sans, Arial, sans-serif" font-size="42.0" font-weight="bold" fill="#009999" textLength="30.8" lengthAdjust="spacingAndGlyphs">O</text>
<text id="teal5" x="1391.9" y="784.7" font-family="Liberation Sans, Arial, sans-serif" font-size="22.4" font-weight="normal" fill="#009999" stroke="#009999" stroke-width="0.9" textLength="10.3" lengthAdjust="spacingAndGlyphs">x</text>
<text id="orange0" x="1159.6" y="893.0" font-family="Liberation Sans, Arial, sans-serif" font-size="42.0" font-weight="bold" fill="#F48630" textLength="94.5" lengthAdjust="spacingAndGlyphs">5Ni/Y</text>
<text id="orange1" x="1253.6" y="907.9" font-family="Liberation Sans, Arial, sans-serif" font-size="22.4" font-weight="normal" fill="#F48630" stroke="#F48630" stroke-width="0.9" textLength="11.6" lengthAdjust="spacingAndGlyphs">2</text>
<text id="orange2" x="1265.6" y="893.0" font-family="Liberation Sans, Arial, sans-serif" font-size="42.0" font-weight="bold" fill="#F48630" textLength="29.5" lengthAdjust="spacingAndGlyphs">O</text>
<text id="orange3" x="1295.0" y="907.9" font-family="Liberation Sans, Arial, sans-serif" font-size="22.4" font-weight="normal" fill="#F48630" stroke="#F48630" stroke-width="0.9" textLength="12.7" lengthAdjust="spacingAndGlyphs">3</text>
</svg>
</body></html>
